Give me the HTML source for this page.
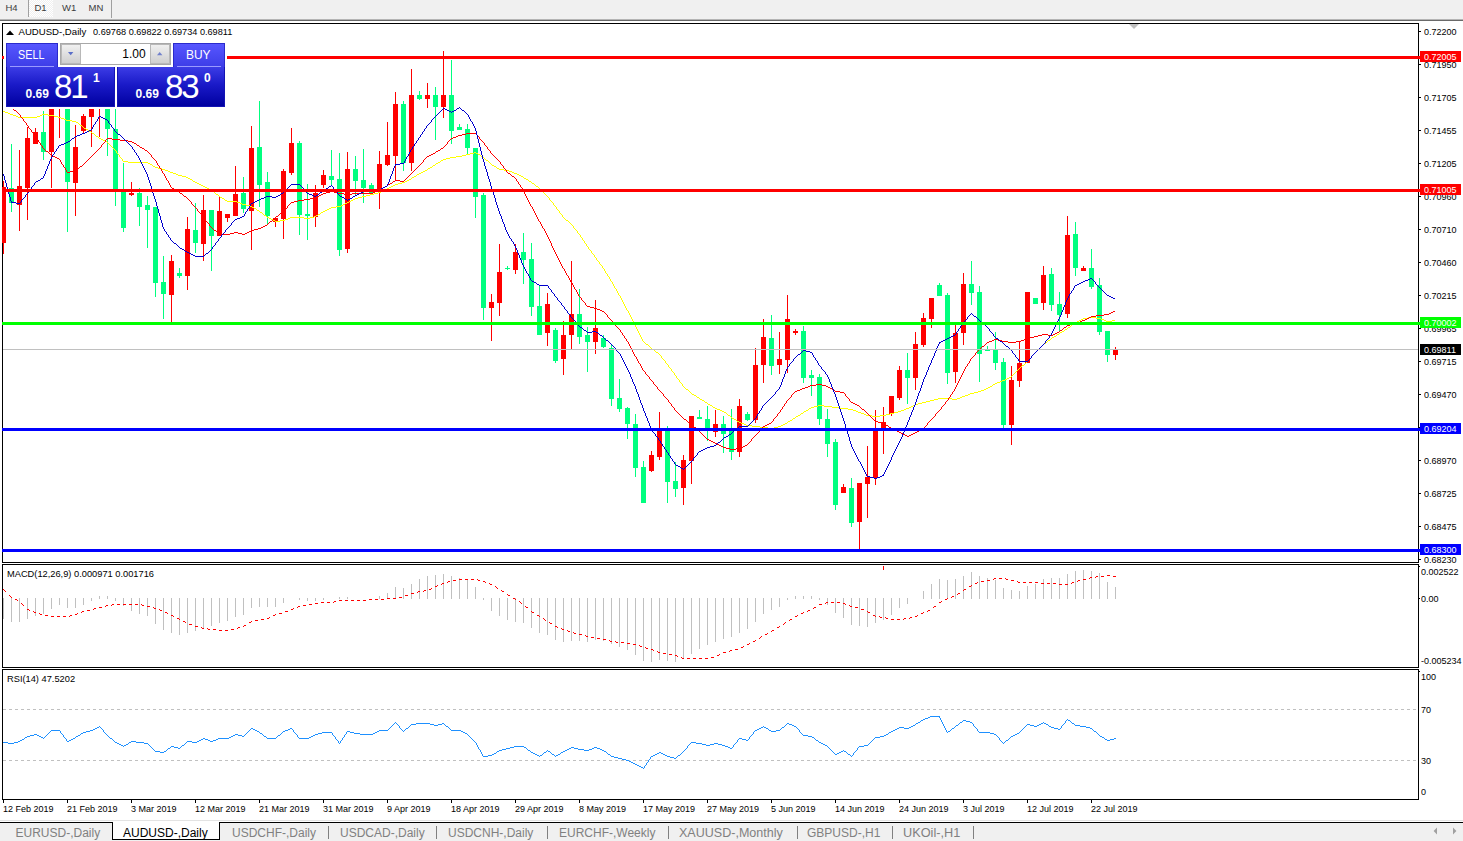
<!DOCTYPE html>
<html><head><meta charset="utf-8"><title>AUDUSD-,Daily</title>
<style>
html,body{margin:0;padding:0;}
body{width:1463px;height:841px;overflow:hidden;background:#fff;font-family:"Liberation Sans",sans-serif;position:relative;}
.t{position:absolute;white-space:nowrap;line-height:1;color:#000;}
.ax{font-size:9.7px;transform:scaleX(0.93);transform-origin:0 0;}
.tb{font-size:9.5px;color:#3c3c3c;}
.tab{font-size:12px;color:#808080;top:827px;}
.lbl{position:absolute;left:1420px;width:41px;height:11px;}
.lbl span{position:absolute;left:4px;top:1px;font-size:9.7px;line-height:1;color:#fff;transform:scaleX(0.93);transform-origin:0 0;}
svg{position:absolute;left:0;top:0;}
</style></head><body>

<div style="position:absolute;left:0;top:0;width:1463px;height:19px;background:#f0f0f0"></div>
<div style="position:absolute;left:0;top:19px;width:1463px;height:1px;background:#b4b4b4"></div>
<div style="position:absolute;left:0;top:20px;width:1463px;height:1px;background:#696969"></div>
<div style="position:absolute;left:29px;top:0;width:24px;height:17px;background-color:#f0f0f0;background-image:linear-gradient(45deg,#fff 25%,transparent 25%,transparent 75%,#fff 75%),linear-gradient(45deg,#fff 25%,transparent 25%,transparent 75%,#fff 75%);background-size:2px 2px;background-position:0 0,1px 1px"></div>
<div style="position:absolute;left:28px;top:0;width:1px;height:17px;background:#a0a0a0"></div>
<div style="position:absolute;left:111px;top:0;width:1px;height:18px;background:#a0a0a0"></div>
<div class="t tb" style="left:5.5px;top:3px">H4</div>
<div class="t tb" style="left:34.5px;top:3px">D1</div>
<div class="t tb" style="left:62px;top:3px">W1</div>
<div class="t tb" style="left:88.5px;top:3px">MN</div>
<svg width="1463" height="841" viewBox="0 0 1463 841" shape-rendering="crispEdges">
<defs><clipPath id="cm"><rect x="2" y="24" width="1416" height="538"/></clipPath></defs>
<rect x="2" y="23" width="1" height="777" fill="#000"/>
<rect x="1418" y="23" width="1" height="777" fill="#000"/>
<rect x="2" y="23" width="1417" height="1" fill="#000"/>
<rect x="2" y="562" width="1417" height="1" fill="#000"/>
<rect x="2" y="564" width="1417" height="1" fill="#000"/>
<rect x="2" y="667" width="1417" height="1" fill="#000"/>
<rect x="2" y="669" width="1417" height="1" fill="#000"/>
<rect x="2" y="799" width="1417" height="1" fill="#000"/>
<rect x="0" y="563" width="1463" height="1" fill="#fff"/>
<rect x="0" y="668" width="1463" height="1" fill="#fff"/>
<polygon points="1129,24 1139,24 1134,29" fill="#c0c0c0" shape-rendering="auto"/>
<g clip-path="url(#cm)">
<rect x="3" y="181" width="1" height="73" fill="#ff0000"/>
<rect x="1" y="187" width="5" height="56" fill="#ff0000"/>
<rect x="11" y="144" width="1" height="68" fill="#00ff7f"/>
<rect x="9" y="188" width="5" height="15" fill="#00ff7f"/>
<rect x="19" y="150" width="1" height="81" fill="#ff0000"/>
<rect x="17" y="186" width="5" height="19" fill="#ff0000"/>
<rect x="27" y="127" width="1" height="93" fill="#ff0000"/>
<rect x="25" y="138" width="5" height="50" fill="#ff0000"/>
<rect x="35" y="128" width="1" height="16" fill="#ff0000"/>
<rect x="33" y="132" width="5" height="12" fill="#ff0000"/>
<rect x="43" y="111" width="1" height="49" fill="#00ff7f"/>
<rect x="41" y="132" width="5" height="20" fill="#00ff7f"/>
<rect x="51" y="100" width="1" height="88" fill="#ff0000"/>
<rect x="49" y="100" width="5" height="52" fill="#ff0000"/>
<rect x="59" y="100" width="1" height="38" fill="#ff0000"/>
<rect x="57" y="100" width="5" height="7" fill="#ff0000"/>
<rect x="67" y="100" width="1" height="132" fill="#00ff7f"/>
<rect x="65" y="100" width="5" height="82" fill="#00ff7f"/>
<rect x="75" y="125" width="1" height="91" fill="#ff0000"/>
<rect x="73" y="147" width="5" height="36" fill="#ff0000"/>
<rect x="83" y="114" width="1" height="20" fill="#ff0000"/>
<rect x="81" y="116" width="5" height="15" fill="#ff0000"/>
<rect x="91" y="100" width="1" height="47" fill="#ff0000"/>
<rect x="89" y="100" width="5" height="17" fill="#ff0000"/>
<rect x="99" y="100" width="1" height="37" fill="#ff0000"/>
<rect x="97" y="100" width="5" height="7" fill="#ff0000"/>
<rect x="107" y="100" width="1" height="56" fill="#00ff7f"/>
<rect x="105" y="100" width="5" height="29" fill="#00ff7f"/>
<rect x="115" y="100" width="1" height="106" fill="#00ff7f"/>
<rect x="113" y="129" width="5" height="60" fill="#00ff7f"/>
<rect x="123" y="163" width="1" height="69" fill="#00ff7f"/>
<rect x="121" y="190" width="5" height="38" fill="#00ff7f"/>
<rect x="131" y="182" width="1" height="14" fill="#ff0000"/>
<rect x="129" y="193" width="5" height="2" fill="#ff0000"/>
<rect x="139" y="188" width="1" height="38" fill="#00ff7f"/>
<rect x="137" y="193" width="5" height="14" fill="#00ff7f"/>
<rect x="147" y="196" width="1" height="52" fill="#00ff7f"/>
<rect x="145" y="205" width="5" height="5" fill="#00ff7f"/>
<rect x="155" y="207" width="1" height="90" fill="#00ff7f"/>
<rect x="153" y="207" width="5" height="76" fill="#00ff7f"/>
<rect x="163" y="256" width="1" height="63" fill="#00ff7f"/>
<rect x="161" y="282" width="5" height="12" fill="#00ff7f"/>
<rect x="171" y="255" width="1" height="67" fill="#ff0000"/>
<rect x="169" y="261" width="5" height="34" fill="#ff0000"/>
<rect x="179" y="268" width="1" height="10" fill="#00ff7f"/>
<rect x="177" y="273" width="5" height="3" fill="#00ff7f"/>
<rect x="187" y="217" width="1" height="73" fill="#ff0000"/>
<rect x="185" y="229" width="5" height="47" fill="#ff0000"/>
<rect x="195" y="203" width="1" height="50" fill="#00ff7f"/>
<rect x="193" y="230" width="5" height="13" fill="#00ff7f"/>
<rect x="203" y="195" width="1" height="66" fill="#ff0000"/>
<rect x="201" y="210" width="5" height="34" fill="#ff0000"/>
<rect x="211" y="210" width="1" height="61" fill="#00ff7f"/>
<rect x="209" y="210" width="5" height="26" fill="#00ff7f"/>
<rect x="219" y="196" width="1" height="40" fill="#ff0000"/>
<rect x="217" y="211" width="5" height="25" fill="#ff0000"/>
<rect x="227" y="214" width="1" height="8" fill="#ff0000"/>
<rect x="225" y="214" width="5" height="4" fill="#ff0000"/>
<rect x="235" y="166" width="1" height="50" fill="#ff0000"/>
<rect x="233" y="194" width="5" height="22" fill="#ff0000"/>
<rect x="243" y="177" width="1" height="36" fill="#00ff7f"/>
<rect x="241" y="193" width="5" height="16" fill="#00ff7f"/>
<rect x="251" y="126" width="1" height="124" fill="#ff0000"/>
<rect x="249" y="148" width="5" height="63" fill="#ff0000"/>
<rect x="259" y="101" width="1" height="106" fill="#00ff7f"/>
<rect x="257" y="147" width="5" height="38" fill="#00ff7f"/>
<rect x="267" y="172" width="1" height="52" fill="#00ff7f"/>
<rect x="265" y="182" width="5" height="34" fill="#00ff7f"/>
<rect x="275" y="217" width="1" height="10" fill="#ff0000"/>
<rect x="273" y="218" width="5" height="4" fill="#ff0000"/>
<rect x="283" y="169" width="1" height="70" fill="#ff0000"/>
<rect x="281" y="171" width="5" height="48" fill="#ff0000"/>
<rect x="291" y="128" width="1" height="47" fill="#ff0000"/>
<rect x="289" y="143" width="5" height="30" fill="#ff0000"/>
<rect x="299" y="141" width="1" height="94" fill="#00ff7f"/>
<rect x="297" y="143" width="5" height="72" fill="#00ff7f"/>
<rect x="307" y="184" width="1" height="56" fill="#00ff7f"/>
<rect x="305" y="214" width="5" height="2" fill="#00ff7f"/>
<rect x="315" y="185" width="1" height="42" fill="#ff0000"/>
<rect x="313" y="193" width="5" height="24" fill="#ff0000"/>
<rect x="323" y="170" width="1" height="18" fill="#ff0000"/>
<rect x="321" y="175" width="5" height="10" fill="#ff0000"/>
<rect x="331" y="150" width="1" height="35" fill="#00ff7f"/>
<rect x="329" y="176" width="5" height="4" fill="#00ff7f"/>
<rect x="339" y="153" width="1" height="103" fill="#00ff7f"/>
<rect x="337" y="179" width="5" height="71" fill="#00ff7f"/>
<rect x="347" y="152" width="1" height="101" fill="#ff0000"/>
<rect x="345" y="169" width="5" height="80" fill="#ff0000"/>
<rect x="355" y="156" width="1" height="39" fill="#00ff7f"/>
<rect x="353" y="169" width="5" height="12" fill="#00ff7f"/>
<rect x="363" y="149" width="1" height="54" fill="#00ff7f"/>
<rect x="361" y="180" width="5" height="8" fill="#00ff7f"/>
<rect x="371" y="183" width="1" height="11" fill="#00ff7f"/>
<rect x="369" y="185" width="5" height="8" fill="#00ff7f"/>
<rect x="379" y="151" width="1" height="58" fill="#ff0000"/>
<rect x="377" y="164" width="5" height="25" fill="#ff0000"/>
<rect x="387" y="122" width="1" height="44" fill="#ff0000"/>
<rect x="385" y="155" width="5" height="10" fill="#ff0000"/>
<rect x="395" y="92" width="1" height="89" fill="#ff0000"/>
<rect x="393" y="104" width="5" height="52" fill="#ff0000"/>
<rect x="403" y="101" width="1" height="70" fill="#00ff7f"/>
<rect x="401" y="104" width="5" height="59" fill="#00ff7f"/>
<rect x="411" y="69" width="1" height="102" fill="#ff0000"/>
<rect x="409" y="95" width="5" height="68" fill="#ff0000"/>
<rect x="419" y="91" width="1" height="9" fill="#00ff7f"/>
<rect x="417" y="95" width="5" height="4" fill="#00ff7f"/>
<rect x="427" y="83" width="1" height="25" fill="#ff0000"/>
<rect x="425" y="95" width="5" height="4" fill="#ff0000"/>
<rect x="435" y="87" width="1" height="53" fill="#00ff7f"/>
<rect x="433" y="95" width="5" height="12" fill="#00ff7f"/>
<rect x="443" y="51" width="1" height="67" fill="#ff0000"/>
<rect x="441" y="95" width="5" height="12" fill="#ff0000"/>
<rect x="451" y="60" width="1" height="84" fill="#00ff7f"/>
<rect x="449" y="95" width="5" height="36" fill="#00ff7f"/>
<rect x="459" y="124" width="1" height="6" fill="#00ff7f"/>
<rect x="457" y="127" width="5" height="3" fill="#00ff7f"/>
<rect x="467" y="124" width="1" height="31" fill="#00ff7f"/>
<rect x="465" y="129" width="5" height="19" fill="#00ff7f"/>
<rect x="475" y="148" width="1" height="70" fill="#00ff7f"/>
<rect x="473" y="148" width="5" height="49" fill="#00ff7f"/>
<rect x="483" y="193" width="1" height="127" fill="#00ff7f"/>
<rect x="481" y="195" width="5" height="113" fill="#00ff7f"/>
<rect x="491" y="294" width="1" height="47" fill="#ff0000"/>
<rect x="489" y="302" width="5" height="6" fill="#ff0000"/>
<rect x="499" y="244" width="1" height="72" fill="#ff0000"/>
<rect x="497" y="272" width="5" height="31" fill="#ff0000"/>
<rect x="507" y="266" width="1" height="4" fill="#00ff7f"/>
<rect x="505" y="268" width="5" height="1" fill="#00ff7f"/>
<rect x="515" y="244" width="1" height="30" fill="#ff0000"/>
<rect x="513" y="252" width="5" height="18" fill="#ff0000"/>
<rect x="523" y="233" width="1" height="51" fill="#00ff7f"/>
<rect x="521" y="252" width="5" height="8" fill="#00ff7f"/>
<rect x="531" y="243" width="1" height="73" fill="#00ff7f"/>
<rect x="529" y="259" width="5" height="48" fill="#00ff7f"/>
<rect x="539" y="285" width="1" height="50" fill="#00ff7f"/>
<rect x="537" y="306" width="5" height="29" fill="#00ff7f"/>
<rect x="547" y="293" width="1" height="53" fill="#ff0000"/>
<rect x="545" y="304" width="5" height="29" fill="#ff0000"/>
<rect x="555" y="328" width="1" height="35" fill="#00ff7f"/>
<rect x="553" y="330" width="5" height="31" fill="#00ff7f"/>
<rect x="563" y="321" width="1" height="54" fill="#ff0000"/>
<rect x="561" y="335" width="5" height="24" fill="#ff0000"/>
<rect x="571" y="261" width="1" height="89" fill="#ff0000"/>
<rect x="569" y="314" width="5" height="21" fill="#ff0000"/>
<rect x="579" y="289" width="1" height="55" fill="#00ff7f"/>
<rect x="577" y="314" width="5" height="23" fill="#00ff7f"/>
<rect x="587" y="327" width="1" height="45" fill="#00ff7f"/>
<rect x="585" y="335" width="5" height="7" fill="#00ff7f"/>
<rect x="595" y="300" width="1" height="54" fill="#ff0000"/>
<rect x="593" y="328" width="5" height="14" fill="#ff0000"/>
<rect x="603" y="335" width="1" height="13" fill="#00ff7f"/>
<rect x="601" y="338" width="5" height="9" fill="#00ff7f"/>
<rect x="611" y="344" width="1" height="62" fill="#00ff7f"/>
<rect x="609" y="348" width="5" height="51" fill="#00ff7f"/>
<rect x="619" y="379" width="1" height="33" fill="#00ff7f"/>
<rect x="617" y="398" width="5" height="11" fill="#00ff7f"/>
<rect x="627" y="407" width="1" height="32" fill="#00ff7f"/>
<rect x="625" y="408" width="5" height="16" fill="#00ff7f"/>
<rect x="635" y="414" width="1" height="63" fill="#00ff7f"/>
<rect x="633" y="424" width="5" height="44" fill="#00ff7f"/>
<rect x="643" y="461" width="1" height="42" fill="#00ff7f"/>
<rect x="641" y="467" width="5" height="36" fill="#00ff7f"/>
<rect x="651" y="451" width="1" height="21" fill="#ff0000"/>
<rect x="649" y="455" width="5" height="16" fill="#ff0000"/>
<rect x="659" y="412" width="1" height="48" fill="#ff0000"/>
<rect x="657" y="429" width="5" height="28" fill="#ff0000"/>
<rect x="667" y="426" width="1" height="77" fill="#00ff7f"/>
<rect x="665" y="429" width="5" height="53" fill="#00ff7f"/>
<rect x="675" y="462" width="1" height="35" fill="#00ff7f"/>
<rect x="673" y="481" width="5" height="8" fill="#00ff7f"/>
<rect x="683" y="455" width="1" height="50" fill="#ff0000"/>
<rect x="681" y="460" width="5" height="28" fill="#ff0000"/>
<rect x="691" y="416" width="1" height="68" fill="#ff0000"/>
<rect x="689" y="416" width="5" height="45" fill="#ff0000"/>
<rect x="699" y="410" width="1" height="9" fill="#00ff7f"/>
<rect x="697" y="417" width="5" height="2" fill="#00ff7f"/>
<rect x="707" y="406" width="1" height="35" fill="#00ff7f"/>
<rect x="705" y="419" width="5" height="12" fill="#00ff7f"/>
<rect x="715" y="410" width="1" height="27" fill="#ff0000"/>
<rect x="713" y="424" width="5" height="8" fill="#ff0000"/>
<rect x="723" y="416" width="1" height="37" fill="#00ff7f"/>
<rect x="721" y="424" width="5" height="10" fill="#00ff7f"/>
<rect x="731" y="409" width="1" height="51" fill="#00ff7f"/>
<rect x="729" y="429" width="5" height="23" fill="#00ff7f"/>
<rect x="739" y="399" width="1" height="58" fill="#ff0000"/>
<rect x="737" y="406" width="5" height="46" fill="#ff0000"/>
<rect x="747" y="412" width="1" height="9" fill="#00ff7f"/>
<rect x="745" y="414" width="5" height="6" fill="#00ff7f"/>
<rect x="755" y="348" width="1" height="75" fill="#ff0000"/>
<rect x="753" y="365" width="5" height="55" fill="#ff0000"/>
<rect x="763" y="319" width="1" height="64" fill="#ff0000"/>
<rect x="761" y="337" width="5" height="28" fill="#ff0000"/>
<rect x="771" y="315" width="1" height="60" fill="#00ff7f"/>
<rect x="769" y="338" width="5" height="28" fill="#00ff7f"/>
<rect x="779" y="332" width="1" height="42" fill="#ff0000"/>
<rect x="777" y="359" width="5" height="6" fill="#ff0000"/>
<rect x="787" y="295" width="1" height="78" fill="#ff0000"/>
<rect x="785" y="319" width="5" height="41" fill="#ff0000"/>
<rect x="795" y="329" width="1" height="6" fill="#ff0000"/>
<rect x="793" y="331" width="5" height="2" fill="#ff0000"/>
<rect x="803" y="326" width="1" height="57" fill="#00ff7f"/>
<rect x="801" y="331" width="5" height="47" fill="#00ff7f"/>
<rect x="811" y="370" width="1" height="26" fill="#00ff7f"/>
<rect x="809" y="375" width="5" height="3" fill="#00ff7f"/>
<rect x="819" y="374" width="1" height="51" fill="#00ff7f"/>
<rect x="817" y="377" width="5" height="42" fill="#00ff7f"/>
<rect x="827" y="409" width="1" height="48" fill="#00ff7f"/>
<rect x="825" y="419" width="5" height="25" fill="#00ff7f"/>
<rect x="835" y="439" width="1" height="71" fill="#00ff7f"/>
<rect x="833" y="442" width="5" height="63" fill="#00ff7f"/>
<rect x="843" y="484" width="1" height="9" fill="#ff0000"/>
<rect x="841" y="487" width="5" height="6" fill="#ff0000"/>
<rect x="851" y="478" width="1" height="49" fill="#00ff7f"/>
<rect x="849" y="488" width="5" height="35" fill="#00ff7f"/>
<rect x="859" y="483" width="1" height="66" fill="#ff0000"/>
<rect x="857" y="483" width="5" height="39" fill="#ff0000"/>
<rect x="867" y="446" width="1" height="72" fill="#ff0000"/>
<rect x="865" y="477" width="5" height="7" fill="#ff0000"/>
<rect x="875" y="410" width="1" height="75" fill="#ff0000"/>
<rect x="873" y="429" width="5" height="49" fill="#ff0000"/>
<rect x="883" y="407" width="1" height="47" fill="#ff0000"/>
<rect x="881" y="422" width="5" height="7" fill="#ff0000"/>
<rect x="891" y="396" width="1" height="20" fill="#ff0000"/>
<rect x="889" y="396" width="5" height="18" fill="#ff0000"/>
<rect x="899" y="366" width="1" height="34" fill="#ff0000"/>
<rect x="897" y="370" width="5" height="28" fill="#ff0000"/>
<rect x="907" y="353" width="1" height="51" fill="#00ff7f"/>
<rect x="905" y="370" width="5" height="8" fill="#00ff7f"/>
<rect x="915" y="332" width="1" height="58" fill="#ff0000"/>
<rect x="913" y="344" width="5" height="34" fill="#ff0000"/>
<rect x="923" y="313" width="1" height="34" fill="#ff0000"/>
<rect x="921" y="318" width="5" height="27" fill="#ff0000"/>
<rect x="931" y="298" width="1" height="30" fill="#ff0000"/>
<rect x="929" y="298" width="5" height="21" fill="#ff0000"/>
<rect x="939" y="283" width="1" height="13" fill="#00ff7f"/>
<rect x="937" y="285" width="5" height="11" fill="#00ff7f"/>
<rect x="947" y="293" width="1" height="91" fill="#00ff7f"/>
<rect x="945" y="295" width="5" height="78" fill="#00ff7f"/>
<rect x="955" y="325" width="1" height="58" fill="#ff0000"/>
<rect x="953" y="333" width="5" height="39" fill="#ff0000"/>
<rect x="963" y="273" width="1" height="72" fill="#ff0000"/>
<rect x="961" y="284" width="5" height="49" fill="#ff0000"/>
<rect x="971" y="261" width="1" height="44" fill="#00ff7f"/>
<rect x="969" y="284" width="5" height="9" fill="#00ff7f"/>
<rect x="979" y="286" width="1" height="96" fill="#00ff7f"/>
<rect x="977" y="292" width="5" height="62" fill="#00ff7f"/>
<rect x="987" y="346" width="1" height="5" fill="#00ff7f"/>
<rect x="985" y="349" width="5" height="2" fill="#00ff7f"/>
<rect x="995" y="332" width="1" height="38" fill="#00ff7f"/>
<rect x="993" y="349" width="5" height="14" fill="#00ff7f"/>
<rect x="1003" y="358" width="1" height="70" fill="#00ff7f"/>
<rect x="1001" y="362" width="5" height="63" fill="#00ff7f"/>
<rect x="1011" y="366" width="1" height="79" fill="#ff0000"/>
<rect x="1009" y="380" width="5" height="45" fill="#ff0000"/>
<rect x="1019" y="341" width="1" height="46" fill="#ff0000"/>
<rect x="1017" y="363" width="5" height="18" fill="#ff0000"/>
<rect x="1027" y="292" width="1" height="71" fill="#ff0000"/>
<rect x="1025" y="292" width="5" height="71" fill="#ff0000"/>
<rect x="1035" y="298" width="1" height="6" fill="#00ff7f"/>
<rect x="1033" y="298" width="5" height="6" fill="#00ff7f"/>
<rect x="1043" y="266" width="1" height="44" fill="#ff0000"/>
<rect x="1041" y="275" width="5" height="28" fill="#ff0000"/>
<rect x="1051" y="268" width="1" height="43" fill="#00ff7f"/>
<rect x="1049" y="274" width="5" height="31" fill="#00ff7f"/>
<rect x="1059" y="292" width="1" height="40" fill="#00ff7f"/>
<rect x="1057" y="304" width="5" height="11" fill="#00ff7f"/>
<rect x="1067" y="216" width="1" height="102" fill="#ff0000"/>
<rect x="1065" y="235" width="5" height="79" fill="#ff0000"/>
<rect x="1075" y="222" width="1" height="54" fill="#00ff7f"/>
<rect x="1073" y="234" width="5" height="34" fill="#00ff7f"/>
<rect x="1083" y="266" width="1" height="5" fill="#ff0000"/>
<rect x="1081" y="268" width="5" height="3" fill="#ff0000"/>
<rect x="1091" y="249" width="1" height="40" fill="#00ff7f"/>
<rect x="1089" y="268" width="5" height="19" fill="#00ff7f"/>
<rect x="1099" y="278" width="1" height="57" fill="#00ff7f"/>
<rect x="1097" y="285" width="5" height="47" fill="#00ff7f"/>
<rect x="1107" y="331" width="1" height="31" fill="#00ff7f"/>
<rect x="1105" y="331" width="5" height="24" fill="#00ff7f"/>
<rect x="1115" y="347" width="1" height="13" fill="#ff0000"/>
<rect x="1113" y="349" width="5" height="6" fill="#ff0000"/>
<path d="M3 111h2v1h-2zM5 112h3v1h-3zM8 113h2v1h-2zM10 114h3v1h-3zM42 114h6v1h-6zM13 115h3v1h-3zM40 115h2v1h-2zM48 115h6v1h-6zM16 116h2v1h-2zM37 116h3v1h-3zM54 116h4v1h-4zM18 117h19v1h-19zM58 117h3v1h-3zM61 118h3v1h-3zM64 119h2v1h-2zM66 120h6v1h-6zM72 121h4v1h-4zM76 122h2v1h-2zM78 123h1v1h-1zM79 124h1v1h-1zM80 125h2v1h-2zM82 126h1v1h-1zM83 127h1v1h-1zM84 128h2v1h-2zM86 129h2v1h-2zM88 130h1v1h-1zM89 131h2v1h-2zM91 132h1v1h-1zM92 133h2v1h-2zM94 134h1v1h-1zM95 135h1v1h-1zM96 136h2v1h-2zM98 137h1v1h-1zM99 138h2v1h-2zM101 139h2v1h-2zM103 140h2v1h-2zM105 141h2v1h-2zM107 142h1v1h-1zM108 143h1v1h-1zM109 144h1v1h-1zM110 145h1v1h-1zM111 146h1v1h-1zM112 147h1v1h-1zM113 148h1v1h-1zM114 149h1v1h-1zM115 150h1v1h-1zM116 151h1v2h-1zM474 152h2v1h-2zM117 153h1v1h-1zM470 153h4v1h-4zM476 153h2v1h-2zM118 154h1v1h-1zM466 154h4v1h-4zM478 154h2v1h-2zM119 155h1v2h-1zM462 155h4v1h-4zM480 155h1v1h-1zM456 156h6v1h-6zM481 156h2v1h-2zM120 157h1v1h-1zM450 157h6v1h-6zM483 157h1v1h-1zM121 158h1v1h-1zM446 158h4v1h-4zM484 158h1v1h-1zM122 159h1v2h-1zM443 159h3v1h-3zM485 159h1v1h-1zM441 160h2v1h-2zM486 160h2v1h-2zM123 161h5v1h-5zM440 161h1v1h-1zM488 161h1v1h-1zM128 162h20v1h-20zM438 162h2v1h-2zM489 162h1v1h-1zM148 163h2v1h-2zM436 163h2v1h-2zM490 163h1v1h-1zM150 164h2v1h-2zM435 164h1v1h-1zM491 164h1v1h-1zM152 165h1v1h-1zM433 165h2v1h-2zM492 165h2v1h-2zM153 166h2v1h-2zM432 166h1v1h-1zM494 166h2v1h-2zM155 167h3v1h-3zM430 167h2v1h-2zM496 167h1v1h-1zM158 168h4v1h-4zM428 168h2v1h-2zM497 168h2v1h-2zM162 169h3v1h-3zM427 169h1v1h-1zM499 169h5v1h-5zM165 170h3v1h-3zM425 170h2v1h-2zM504 170h5v1h-5zM168 171h2v1h-2zM423 171h2v1h-2zM509 171h3v1h-3zM170 172h3v1h-3zM421 172h2v1h-2zM512 172h2v1h-2zM173 173h3v1h-3zM419 173h2v1h-2zM514 173h3v1h-3zM176 174h2v1h-2zM417 174h2v1h-2zM517 174h2v1h-2zM178 175h4v1h-4zM416 175h1v1h-1zM519 175h2v1h-2zM182 176h4v1h-4zM414 176h2v1h-2zM521 176h2v1h-2zM186 177h2v1h-2zM412 177h2v1h-2zM523 177h1v1h-1zM188 178h2v1h-2zM411 178h1v1h-1zM524 178h2v1h-2zM190 179h2v1h-2zM409 179h2v1h-2zM526 179h2v1h-2zM192 180h1v1h-1zM407 180h2v1h-2zM528 180h1v1h-1zM193 181h2v1h-2zM405 181h2v1h-2zM529 181h2v1h-2zM195 182h2v1h-2zM402 182h3v1h-3zM531 182h1v1h-1zM197 183h2v1h-2zM398 183h4v1h-4zM532 183h2v1h-2zM199 184h2v1h-2zM395 184h3v1h-3zM534 184h1v1h-1zM201 185h2v1h-2zM393 185h2v1h-2zM535 185h1v1h-1zM203 186h2v1h-2zM391 186h2v1h-2zM536 186h2v1h-2zM205 187h2v1h-2zM389 187h2v1h-2zM538 187h1v1h-1zM207 188h2v1h-2zM387 188h2v1h-2zM539 188h1v1h-1zM209 189h2v1h-2zM385 189h2v1h-2zM540 189h1v1h-1zM211 190h1v1h-1zM383 190h2v1h-2zM541 190h1v1h-1zM212 191h2v1h-2zM381 191h2v1h-2zM542 191h1v1h-1zM214 192h1v1h-1zM378 192h3v1h-3zM543 192h1v1h-1zM215 193h1v1h-1zM374 193h4v1h-4zM544 193h1v1h-1zM216 194h2v1h-2zM370 194h4v1h-4zM545 194h1v1h-1zM218 195h1v1h-1zM366 195h4v1h-4zM546 195h1v1h-1zM219 196h1v1h-1zM362 196h4v1h-4zM547 196h1v1h-1zM220 197h2v1h-2zM358 197h4v1h-4zM548 197h1v1h-1zM222 198h2v1h-2zM355 198h3v1h-3zM549 198h1v2h-1zM224 199h1v1h-1zM353 199h2v1h-2zM225 200h2v1h-2zM351 200h2v1h-2zM550 200h1v1h-1zM227 201h10v1h-10zM349 201h2v1h-2zM551 201h1v1h-1zM237 202h3v1h-3zM347 202h2v1h-2zM552 202h1v1h-1zM240 203h2v1h-2zM345 203h2v1h-2zM553 203h1v2h-1zM242 204h4v1h-4zM343 204h2v1h-2zM246 205h4v1h-4zM341 205h2v1h-2zM554 205h1v1h-1zM250 206h2v1h-2zM336 206h5v1h-5zM555 206h1v1h-1zM252 207h2v1h-2zM331 207h5v1h-5zM556 207h1v2h-1zM254 208h2v1h-2zM329 208h2v1h-2zM256 209h1v1h-1zM327 209h2v1h-2zM557 209h1v1h-1zM257 210h2v1h-2zM325 210h2v1h-2zM558 210h1v1h-1zM259 211h1v1h-1zM323 211h2v1h-2zM559 211h1v2h-1zM260 212h2v1h-2zM321 212h2v1h-2zM262 213h1v1h-1zM320 213h1v1h-1zM560 213h1v1h-1zM263 214h1v1h-1zM318 214h2v1h-2zM561 214h1v1h-1zM264 215h2v1h-2zM316 215h2v1h-2zM562 215h1v2h-1zM266 216h1v1h-1zM314 216h2v1h-2zM267 217h2v1h-2zM290 217h14v1h-14zM310 217h4v1h-4zM563 217h1v1h-1zM269 218h2v1h-2zM288 218h2v1h-2zM304 218h6v1h-6zM564 218h1v1h-1zM271 219h2v1h-2zM285 219h3v1h-3zM565 219h1v1h-1zM273 220h2v1h-2zM280 220h5v1h-5zM566 220h2v1h-2zM275 221h5v1h-5zM568 221h1v1h-1zM569 222h1v1h-1zM570 223h1v1h-1zM571 224h1v1h-1zM572 225h1v1h-1zM573 226h1v2h-1zM574 228h1v1h-1zM575 229h1v1h-1zM576 230h1v1h-1zM577 231h1v2h-1zM578 233h1v1h-1zM579 234h1v1h-1zM580 235h1v2h-1zM581 237h1v1h-1zM582 238h1v2h-1zM583 240h1v1h-1zM584 241h1v2h-1zM585 243h1v1h-1zM586 244h1v2h-1zM587 246h1v1h-1zM588 247h1v2h-1zM589 249h1v1h-1zM590 250h1v1h-1zM591 251h1v2h-1zM592 253h1v1h-1zM593 254h1v1h-1zM594 255h1v2h-1zM595 257h1v1h-1zM596 258h1v2h-1zM597 260h1v1h-1zM598 261h1v1h-1zM599 262h1v2h-1zM600 264h1v1h-1zM601 265h1v1h-1zM602 266h1v2h-1zM603 268h1v1h-1zM604 269h1v2h-1zM605 271h1v2h-1zM606 273h1v1h-1zM607 274h1v2h-1zM608 276h1v1h-1zM609 277h1v2h-1zM610 279h1v2h-1zM611 281h1v1h-1zM612 282h1v2h-1zM613 284h1v2h-1zM614 286h1v2h-1zM615 288h1v1h-1zM616 289h1v2h-1zM617 291h1v2h-1zM618 293h1v2h-1zM619 295h1v1h-1zM620 296h1v2h-1zM621 298h1v2h-1zM622 300h1v2h-1zM623 302h1v2h-1zM624 304h1v2h-1zM625 306h1v2h-1zM626 308h1v2h-1zM627 310h1v1h-1zM628 311h1v2h-1zM629 313h1v2h-1zM630 315h1v2h-1zM631 317h1v2h-1zM1088 317h8v1h-8zM1083 318h5v1h-5zM1096 318h5v1h-5zM632 319h1v2h-1zM1081 319h2v1h-2zM1101 319h3v1h-3zM1079 320h2v1h-2zM1104 320h2v1h-2zM1112 320h3v1h-3zM633 321h1v2h-1zM1077 321h2v1h-2zM1106 321h6v1h-6zM1075 322h2v1h-2zM634 323h1v2h-1zM1074 323h1v1h-1zM1072 324h2v1h-2zM635 325h1v2h-1zM1071 325h1v1h-1zM1070 326h1v1h-1zM636 327h1v2h-1zM1068 327h2v1h-2zM1067 328h1v1h-1zM637 329h1v2h-1zM1065 329h2v1h-2zM1064 330h1v1h-1zM638 331h1v2h-1zM1062 331h2v1h-2zM1060 332h2v1h-2zM639 333h1v2h-1zM1059 333h1v1h-1zM1057 334h2v1h-2zM640 335h1v2h-1zM1056 335h1v1h-1zM1054 336h2v1h-2zM641 337h1v2h-1zM1052 337h2v1h-2zM1051 338h1v1h-1zM642 339h1v2h-1zM1050 339h1v1h-1zM1048 340h2v1h-2zM643 341h1v1h-1zM1047 341h1v1h-1zM644 342h1v1h-1zM1046 342h1v1h-1zM645 343h1v1h-1zM1044 343h2v1h-2zM646 344h2v1h-2zM1043 344h1v1h-1zM648 345h1v1h-1zM1042 345h1v1h-1zM649 346h1v1h-1zM1041 346h1v1h-1zM650 347h1v1h-1zM1040 347h1v1h-1zM651 348h1v1h-1zM1039 348h1v1h-1zM652 349h2v1h-2zM1038 349h1v1h-1zM654 350h1v1h-1zM1037 350h1v1h-1zM655 351h1v1h-1zM1036 351h1v1h-1zM656 352h2v1h-2zM1035 352h1v1h-1zM658 353h1v1h-1zM1034 353h1v1h-1zM659 354h1v1h-1zM1033 354h1v1h-1zM660 355h1v1h-1zM1032 355h1v1h-1zM661 356h1v2h-1zM1031 356h1v2h-1zM662 358h1v1h-1zM1030 358h1v1h-1zM663 359h1v1h-1zM1029 359h1v1h-1zM664 360h1v1h-1zM1028 360h1v1h-1zM665 361h1v2h-1zM1027 361h1v1h-1zM1026 362h1v1h-1zM666 363h1v1h-1zM1025 363h1v1h-1zM667 364h1v1h-1zM1024 364h1v1h-1zM668 365h1v2h-1zM1022 365h2v1h-2zM1021 366h1v1h-1zM669 367h1v1h-1zM1020 367h1v1h-1zM670 368h1v1h-1zM1019 368h1v1h-1zM671 369h1v2h-1zM1018 369h1v1h-1zM1017 370h1v1h-1zM672 371h1v1h-1zM1016 371h1v1h-1zM673 372h1v1h-1zM1015 372h1v1h-1zM674 373h1v2h-1zM1014 373h1v1h-1zM1013 374h1v1h-1zM675 375h1v1h-1zM1012 375h1v1h-1zM676 376h1v2h-1zM1011 376h1v1h-1zM1009 377h2v1h-2zM677 378h1v1h-1zM1007 378h2v1h-2zM678 379h1v1h-1zM1005 379h2v1h-2zM679 380h1v2h-1zM1002 380h3v1h-3zM1000 381h2v1h-2zM680 382h1v1h-1zM997 382h3v1h-3zM681 383h1v1h-1zM995 383h2v1h-2zM682 384h1v2h-1zM993 384h2v1h-2zM992 385h1v1h-1zM683 386h1v1h-1zM990 386h2v1h-2zM684 387h1v1h-1zM988 387h2v1h-2zM685 388h1v1h-1zM986 388h2v1h-2zM686 389h2v1h-2zM984 389h2v1h-2zM688 390h1v1h-1zM981 390h3v1h-3zM689 391h1v1h-1zM978 391h3v1h-3zM690 392h1v1h-1zM974 392h4v1h-4zM691 393h1v1h-1zM970 393h4v1h-4zM692 394h2v1h-2zM968 394h2v1h-2zM694 395h2v1h-2zM965 395h3v1h-3zM696 396h1v1h-1zM962 396h3v1h-3zM697 397h2v1h-2zM960 397h2v1h-2zM699 398h1v1h-1zM938 398h14v1h-14zM957 398h3v1h-3zM700 399h2v1h-2zM934 399h4v1h-4zM952 399h5v1h-5zM702 400h2v1h-2zM930 400h4v1h-4zM704 401h1v1h-1zM926 401h4v1h-4zM705 402h2v1h-2zM922 402h4v1h-4zM707 403h1v1h-1zM918 403h4v1h-4zM708 404h2v1h-2zM915 404h3v1h-3zM710 405h2v1h-2zM818 405h6v1h-6zM913 405h2v1h-2zM712 406h1v1h-1zM814 406h4v1h-4zM824 406h8v1h-8zM911 406h2v1h-2zM713 407h2v1h-2zM811 407h3v1h-3zM832 407h8v1h-8zM909 407h2v1h-2zM715 408h2v1h-2zM809 408h2v1h-2zM840 408h8v1h-8zM906 408h3v1h-3zM717 409h3v1h-3zM808 409h1v1h-1zM848 409h5v1h-5zM904 409h2v1h-2zM720 410h2v1h-2zM806 410h2v1h-2zM853 410h3v1h-3zM901 410h3v1h-3zM722 411h2v1h-2zM804 411h2v1h-2zM856 411h2v1h-2zM898 411h3v1h-3zM724 412h2v1h-2zM803 412h1v1h-1zM858 412h3v1h-3zM894 412h4v1h-4zM726 413h1v1h-1zM801 413h2v1h-2zM861 413h3v1h-3zM890 413h4v1h-4zM727 414h1v1h-1zM800 414h1v1h-1zM864 414h2v1h-2zM886 414h4v1h-4zM728 415h2v1h-2zM798 415h2v1h-2zM866 415h6v1h-6zM880 415h6v1h-6zM730 416h1v1h-1zM796 416h2v1h-2zM872 416h8v1h-8zM731 417h1v1h-1zM795 417h1v1h-1zM732 418h2v1h-2zM793 418h2v1h-2zM734 419h2v1h-2zM792 419h1v1h-1zM736 420h1v1h-1zM790 420h2v1h-2zM737 421h2v1h-2zM788 421h2v1h-2zM739 422h2v1h-2zM787 422h1v1h-1zM741 423h3v1h-3zM785 423h2v1h-2zM744 424h2v1h-2zM783 424h2v1h-2zM746 425h6v1h-6zM781 425h2v1h-2zM752 426h8v1h-8zM778 426h3v1h-3zM760 427h8v1h-8zM774 427h4v1h-4zM768 428h6v1h-6z" fill="#ffff00"/>
<path d="M11 107h1v1h-1zM12 108h1v1h-1zM13 109h1v1h-1zM14 110h2v1h-2zM16 111h1v1h-1zM17 112h1v1h-1zM18 113h1v1h-1zM19 114h1v1h-1zM20 115h1v2h-1zM21 117h1v1h-1zM22 118h1v1h-1zM23 119h1v2h-1zM24 121h1v1h-1zM25 122h1v1h-1zM26 123h1v2h-1zM27 125h1v1h-1zM28 126h1v2h-1zM29 128h1v1h-1zM30 129h1v1h-1zM31 130h1v2h-1zM32 132h1v1h-1zM33 133h1v1h-1zM466 133h10v1h-10zM34 134h1v2h-1zM462 134h4v1h-4zM476 134h1v1h-1zM458 135h4v1h-4zM477 135h1v1h-1zM35 136h1v1h-1zM456 136h2v1h-2zM478 136h1v1h-1zM36 137h1v2h-1zM453 137h3v1h-3zM479 137h1v2h-1zM107 138h5v1h-5zM451 138h2v1h-2zM37 139h1v1h-1zM106 139h1v1h-1zM112 139h8v1h-8zM450 139h1v1h-1zM480 139h1v1h-1zM38 140h1v2h-1zM105 140h1v2h-1zM120 140h8v1h-8zM449 140h1v1h-1zM481 140h1v1h-1zM128 141h4v1h-4zM448 141h1v1h-1zM482 141h1v1h-1zM39 142h1v1h-1zM104 142h1v1h-1zM132 142h2v1h-2zM447 142h1v2h-1zM483 142h1v1h-1zM40 143h1v2h-1zM103 143h1v1h-1zM134 143h2v1h-2zM484 143h1v2h-1zM102 144h1v1h-1zM136 144h1v1h-1zM446 144h1v1h-1zM41 145h1v1h-1zM101 145h1v2h-1zM137 145h2v1h-2zM445 145h1v1h-1zM485 145h1v1h-1zM42 146h1v2h-1zM139 146h1v1h-1zM444 146h1v1h-1zM486 146h1v1h-1zM100 147h1v1h-1zM140 147h2v1h-2zM443 147h1v1h-1zM487 147h1v2h-1zM43 148h1v1h-1zM99 148h1v1h-1zM142 148h2v1h-2zM441 148h2v1h-2zM44 149h1v1h-1zM98 149h1v1h-1zM144 149h1v1h-1zM440 149h1v1h-1zM488 149h1v1h-1zM45 150h1v1h-1zM97 150h1v1h-1zM145 150h2v1h-2zM438 150h2v1h-2zM489 150h1v1h-1zM46 151h2v1h-2zM96 151h1v1h-1zM147 151h1v1h-1zM436 151h2v1h-2zM490 151h1v2h-1zM48 152h1v1h-1zM95 152h1v1h-1zM148 152h1v1h-1zM435 152h1v1h-1zM49 153h1v1h-1zM94 153h1v1h-1zM149 153h1v1h-1zM433 153h2v1h-2zM491 153h1v1h-1zM50 154h1v1h-1zM93 154h1v1h-1zM150 154h1v1h-1zM431 154h2v1h-2zM492 154h1v1h-1zM51 155h2v1h-2zM92 155h1v1h-1zM151 155h1v2h-1zM429 155h2v1h-2zM493 155h1v1h-1zM53 156h2v1h-2zM91 156h1v1h-1zM427 156h2v1h-2zM494 156h1v1h-1zM55 157h2v1h-2zM90 157h1v1h-1zM152 157h1v1h-1zM426 157h1v1h-1zM495 157h1v1h-1zM57 158h2v1h-2zM89 158h1v1h-1zM153 158h1v1h-1zM425 158h1v1h-1zM496 158h1v1h-1zM59 159h1v1h-1zM88 159h1v1h-1zM154 159h1v1h-1zM424 159h1v1h-1zM497 159h1v1h-1zM60 160h1v2h-1zM87 160h1v1h-1zM155 160h1v1h-1zM423 160h1v2h-1zM498 160h1v1h-1zM86 161h1v1h-1zM156 161h1v2h-1zM499 161h1v1h-1zM61 162h1v2h-1zM85 162h1v1h-1zM422 162h1v1h-1zM500 162h1v2h-1zM84 163h1v1h-1zM157 163h1v2h-1zM421 163h1v1h-1zM62 164h1v1h-1zM83 164h1v1h-1zM420 164h1v1h-1zM501 164h1v1h-1zM63 165h1v2h-1zM82 165h1v1h-1zM158 165h1v1h-1zM419 165h1v1h-1zM502 165h1v1h-1zM80 166h2v1h-2zM159 166h1v2h-1zM418 166h1v1h-1zM503 166h1v2h-1zM64 167h1v1h-1zM79 167h1v1h-1zM417 167h1v1h-1zM65 168h1v2h-1zM78 168h1v1h-1zM160 168h1v1h-1zM416 168h1v1h-1zM504 168h1v1h-1zM76 169h2v1h-2zM161 169h1v2h-1zM415 169h1v1h-1zM505 169h1v1h-1zM66 170h1v2h-1zM74 170h2v1h-2zM414 170h1v1h-1zM506 170h1v2h-1zM70 171h4v1h-4zM162 171h1v2h-1zM413 171h1v1h-1zM67 172h3v1h-3zM412 172h1v1h-1zM507 172h1v1h-1zM163 173h1v1h-1zM411 173h1v1h-1zM508 173h2v1h-2zM164 174h1v2h-1zM410 174h1v1h-1zM510 174h1v1h-1zM409 175h1v1h-1zM511 175h1v1h-1zM165 176h1v2h-1zM408 176h1v1h-1zM512 176h2v1h-2zM407 177h1v1h-1zM514 177h1v1h-1zM166 178h1v2h-1zM406 178h1v1h-1zM515 178h1v1h-1zM405 179h1v1h-1zM516 179h1v2h-1zM167 180h1v1h-1zM395 180h5v1h-5zM404 180h1v1h-1zM168 181h1v2h-1zM393 181h2v1h-2zM400 181h4v1h-4zM517 181h1v1h-1zM392 182h1v1h-1zM518 182h1v2h-1zM169 183h1v2h-1zM390 183h2v1h-2zM388 184h2v1h-2zM519 184h1v1h-1zM170 185h1v2h-1zM387 185h1v1h-1zM520 185h1v2h-1zM385 186h2v1h-2zM171 187h1v1h-1zM383 187h2v1h-2zM521 187h1v1h-1zM172 188h2v1h-2zM381 188h2v1h-2zM522 188h1v2h-1zM174 189h2v1h-2zM379 189h2v1h-2zM176 190h1v1h-1zM377 190h2v1h-2zM523 190h1v2h-1zM177 191h2v1h-2zM330 191h4v1h-4zM375 191h2v1h-2zM179 192h1v1h-1zM326 192h4v1h-4zM334 192h4v1h-4zM373 192h2v1h-2zM524 192h1v2h-1zM180 193h2v1h-2zM323 193h3v1h-3zM338 193h6v1h-6zM352 193h21v1h-21zM182 194h1v1h-1zM321 194h2v1h-2zM344 194h8v1h-8zM525 194h1v2h-1zM183 195h1v1h-1zM319 195h2v1h-2zM184 196h2v1h-2zM317 196h2v1h-2zM526 196h1v2h-1zM186 197h1v1h-1zM314 197h3v1h-3zM187 198h1v1h-1zM310 198h4v1h-4zM527 198h1v2h-1zM188 199h1v1h-1zM304 199h6v1h-6zM189 200h1v1h-1zM298 200h6v1h-6zM528 200h1v2h-1zM190 201h1v1h-1zM294 201h4v1h-4zM191 202h1v2h-1zM291 202h3v1h-3zM529 202h1v2h-1zM290 203h1v1h-1zM192 204h1v1h-1zM289 204h1v1h-1zM530 204h1v2h-1zM193 205h1v1h-1zM288 205h1v1h-1zM194 206h1v1h-1zM287 206h1v2h-1zM531 206h1v1h-1zM195 207h1v1h-1zM532 207h1v2h-1zM196 208h1v1h-1zM286 208h1v1h-1zM197 209h1v2h-1zM285 209h1v1h-1zM533 209h1v2h-1zM284 210h1v1h-1zM198 211h1v1h-1zM283 211h1v1h-1zM534 211h1v2h-1zM199 212h1v1h-1zM282 212h1v1h-1zM200 213h1v1h-1zM280 213h2v1h-2zM535 213h1v2h-1zM201 214h1v2h-1zM279 214h1v1h-1zM278 215h1v1h-1zM536 215h1v2h-1zM202 216h1v1h-1zM276 216h2v1h-2zM203 217h1v1h-1zM275 217h1v1h-1zM537 217h1v2h-1zM204 218h1v1h-1zM274 218h1v1h-1zM205 219h1v2h-1zM273 219h1v1h-1zM538 219h1v2h-1zM272 220h1v1h-1zM206 221h1v1h-1zM270 221h2v1h-2zM539 221h1v1h-1zM207 222h1v1h-1zM269 222h1v1h-1zM540 222h1v2h-1zM208 223h1v1h-1zM268 223h1v1h-1zM209 224h1v2h-1zM267 224h1v1h-1zM541 224h1v2h-1zM265 225h2v1h-2zM210 226h1v1h-1zM263 226h2v1h-2zM542 226h1v2h-1zM211 227h1v1h-1zM261 227h2v1h-2zM212 228h1v1h-1zM258 228h3v1h-3zM543 228h1v1h-1zM213 229h1v1h-1zM254 229h4v1h-4zM544 229h1v2h-1zM214 230h2v1h-2zM251 230h3v1h-3zM216 231h1v1h-1zM249 231h2v1h-2zM545 231h1v2h-1zM217 232h1v1h-1zM234 232h4v1h-4zM247 232h2v1h-2zM218 233h1v1h-1zM230 233h4v1h-4zM238 233h4v1h-4zM245 233h2v1h-2zM546 233h1v2h-1zM219 234h11v1h-11zM242 234h3v1h-3zM547 235h1v2h-1zM548 237h1v2h-1zM549 239h1v2h-1zM550 241h1v2h-1zM551 243h1v3h-1zM552 246h1v2h-1zM553 248h1v2h-1zM554 250h1v2h-1zM555 252h1v2h-1zM556 254h1v2h-1zM557 256h1v2h-1zM558 258h1v2h-1zM559 260h1v2h-1zM560 262h1v2h-1zM561 264h1v2h-1zM562 266h1v2h-1zM563 268h1v1h-1zM564 269h1v2h-1zM565 271h1v2h-1zM566 273h1v2h-1zM567 275h1v1h-1zM568 276h1v2h-1zM569 278h1v2h-1zM570 280h1v2h-1zM571 282h1v1h-1zM572 283h1v2h-1zM573 285h1v2h-1zM574 287h1v2h-1zM575 289h1v1h-1zM576 290h1v2h-1zM577 292h1v2h-1zM578 294h1v2h-1zM579 296h1v1h-1zM580 297h1v1h-1zM581 298h1v2h-1zM582 300h1v1h-1zM583 301h1v1h-1zM584 302h1v1h-1zM585 303h1v2h-1zM586 305h1v1h-1zM587 306h3v1h-3zM590 307h4v1h-4zM594 308h3v1h-3zM597 309h3v1h-3zM600 310h2v1h-2zM602 311h2v1h-2zM1113 311h2v1h-2zM604 312h1v1h-1zM1111 312h2v1h-2zM605 313h1v1h-1zM1109 313h2v1h-2zM606 314h1v1h-1zM1104 314h5v1h-5zM607 315h1v2h-1zM1096 315h8v1h-8zM1091 316h5v1h-5zM608 317h1v1h-1zM1089 317h2v1h-2zM609 318h1v1h-1zM1087 318h2v1h-2zM610 319h1v1h-1zM1085 319h2v1h-2zM611 320h1v1h-1zM1082 320h3v1h-3zM612 321h1v1h-1zM1080 321h2v1h-2zM613 322h1v1h-1zM1077 322h3v1h-3zM614 323h1v1h-1zM1074 323h3v1h-3zM615 324h1v2h-1zM1070 324h4v1h-4zM1067 325h3v1h-3zM616 326h1v1h-1zM1066 326h1v1h-1zM617 327h1v1h-1zM1064 327h2v1h-2zM618 328h1v1h-1zM1063 328h1v1h-1zM619 329h1v1h-1zM1062 329h1v1h-1zM620 330h1v2h-1zM1060 330h2v1h-2zM1059 331h1v1h-1zM621 332h1v1h-1zM1057 332h2v1h-2zM622 333h1v2h-1zM1055 333h2v1h-2zM1042 334h6v1h-6zM1053 334h2v1h-2zM623 335h1v1h-1zM1038 335h4v1h-4zM1048 335h5v1h-5zM624 336h1v2h-1zM1034 336h4v1h-4zM1030 337h4v1h-4zM625 338h1v1h-1zM1026 338h4v1h-4zM626 339h1v2h-1zM994 339h4v1h-4zM1024 339h2v1h-2zM992 340h2v1h-2zM998 340h4v1h-4zM1021 340h3v1h-3zM627 341h1v1h-1zM989 341h3v1h-3zM1002 341h6v1h-6zM1016 341h5v1h-5zM628 342h1v2h-1zM987 342h2v1h-2zM1008 342h8v1h-8zM986 343h1v1h-1zM629 344h1v2h-1zM985 344h1v1h-1zM984 345h1v1h-1zM630 346h1v2h-1zM982 346h2v1h-2zM981 347h1v1h-1zM631 348h1v2h-1zM980 348h1v1h-1zM979 349h1v1h-1zM632 350h1v2h-1zM978 350h1v1h-1zM977 351h1v1h-1zM633 352h1v2h-1zM976 352h1v1h-1zM975 353h1v2h-1zM634 354h1v2h-1zM974 355h1v1h-1zM635 356h1v1h-1zM973 356h1v1h-1zM636 357h1v2h-1zM972 357h1v1h-1zM971 358h1v1h-1zM637 359h1v2h-1zM970 359h1v2h-1zM638 361h1v2h-1zM969 361h1v2h-1zM639 363h1v1h-1zM968 363h1v1h-1zM640 364h1v2h-1zM967 364h1v2h-1zM641 366h1v2h-1zM966 366h1v1h-1zM965 367h1v2h-1zM642 368h1v2h-1zM964 369h1v2h-1zM643 370h1v1h-1zM644 371h1v1h-1zM963 371h1v2h-1zM645 372h1v2h-1zM962 373h1v2h-1zM646 374h1v1h-1zM647 375h1v1h-1zM961 375h1v2h-1zM648 376h1v1h-1zM649 377h1v2h-1zM960 377h1v2h-1zM650 379h1v1h-1zM959 379h1v2h-1zM651 380h1v1h-1zM652 381h1v1h-1zM958 381h1v2h-1zM653 382h1v2h-1zM957 383h1v2h-1zM654 384h1v1h-1zM816 384h6v1h-6zM655 385h1v1h-1zM810 385h6v1h-6zM822 385h4v1h-4zM956 385h1v2h-1zM656 386h1v1h-1zM808 386h2v1h-2zM826 386h2v1h-2zM657 387h1v2h-1zM805 387h3v1h-3zM828 387h2v1h-2zM955 387h1v2h-1zM802 388h3v1h-3zM830 388h2v1h-2zM658 389h1v1h-1zM800 389h2v1h-2zM832 389h1v1h-1zM954 389h1v2h-1zM659 390h1v1h-1zM797 390h3v1h-3zM833 390h2v1h-2zM660 391h1v1h-1zM795 391h2v1h-2zM835 391h5v1h-5zM953 391h1v1h-1zM661 392h1v1h-1zM794 392h1v1h-1zM840 392h4v1h-4zM952 392h1v2h-1zM662 393h1v1h-1zM793 393h1v1h-1zM844 393h1v1h-1zM663 394h1v2h-1zM792 394h1v1h-1zM845 394h1v2h-1zM951 394h1v1h-1zM791 395h1v2h-1zM950 395h1v2h-1zM664 396h1v1h-1zM846 396h1v1h-1zM665 397h1v1h-1zM790 397h1v1h-1zM847 397h1v1h-1zM949 397h1v1h-1zM666 398h1v1h-1zM789 398h1v1h-1zM848 398h1v1h-1zM948 398h1v2h-1zM667 399h1v1h-1zM788 399h1v1h-1zM849 399h1v2h-1zM668 400h1v2h-1zM787 400h1v1h-1zM947 400h1v1h-1zM786 401h1v2h-1zM850 401h1v1h-1zM946 401h1v1h-1zM669 402h1v1h-1zM851 402h2v1h-2zM945 402h1v2h-1zM670 403h1v1h-1zM785 403h1v1h-1zM853 403h2v1h-2zM671 404h1v2h-1zM784 404h1v2h-1zM855 404h2v1h-2zM944 404h1v1h-1zM857 405h2v1h-2zM943 405h1v1h-1zM672 406h1v1h-1zM783 406h1v1h-1zM859 406h1v1h-1zM942 406h1v1h-1zM673 407h1v1h-1zM782 407h1v2h-1zM860 407h1v1h-1zM941 407h1v2h-1zM674 408h1v2h-1zM861 408h1v1h-1zM781 409h1v1h-1zM862 409h2v1h-2zM940 409h1v1h-1zM675 410h1v1h-1zM780 410h1v2h-1zM864 410h1v1h-1zM939 410h1v1h-1zM676 411h1v1h-1zM865 411h1v1h-1zM938 411h1v1h-1zM677 412h1v1h-1zM779 412h1v1h-1zM866 412h1v1h-1zM937 412h1v1h-1zM678 413h1v1h-1zM778 413h1v1h-1zM867 413h1v1h-1zM936 413h1v1h-1zM679 414h1v1h-1zM777 414h1v2h-1zM868 414h1v1h-1zM935 414h1v2h-1zM680 415h1v1h-1zM869 415h1v1h-1zM681 416h1v1h-1zM776 416h1v1h-1zM870 416h1v1h-1zM934 416h1v1h-1zM682 417h1v1h-1zM775 417h1v1h-1zM871 417h1v1h-1zM933 417h1v1h-1zM683 418h1v1h-1zM774 418h1v1h-1zM872 418h1v1h-1zM932 418h1v1h-1zM684 419h2v1h-2zM773 419h1v2h-1zM873 419h1v1h-1zM931 419h1v1h-1zM686 420h1v1h-1zM874 420h1v1h-1zM930 420h1v1h-1zM687 421h1v1h-1zM772 421h1v1h-1zM875 421h3v1h-3zM929 421h1v1h-1zM688 422h2v1h-2zM771 422h1v1h-1zM878 422h4v1h-4zM928 422h1v1h-1zM690 423h1v1h-1zM769 423h2v1h-2zM882 423h2v1h-2zM927 423h1v2h-1zM691 424h1v1h-1zM767 424h2v1h-2zM884 424h2v1h-2zM692 425h1v1h-1zM765 425h2v1h-2zM886 425h2v1h-2zM926 425h1v1h-1zM693 426h1v1h-1zM763 426h2v1h-2zM888 426h1v1h-1zM925 426h1v1h-1zM694 427h2v1h-2zM762 427h1v1h-1zM889 427h2v1h-2zM924 427h1v1h-1zM696 428h1v1h-1zM761 428h1v1h-1zM891 428h2v1h-2zM923 428h1v1h-1zM697 429h1v1h-1zM760 429h1v1h-1zM893 429h2v1h-2zM921 429h2v1h-2zM698 430h1v1h-1zM759 430h1v2h-1zM895 430h2v1h-2zM919 430h2v1h-2zM699 431h1v1h-1zM897 431h2v1h-2zM917 431h2v1h-2zM700 432h1v1h-1zM758 432h1v1h-1zM899 432h2v1h-2zM915 432h2v1h-2zM701 433h1v1h-1zM757 433h1v1h-1zM901 433h2v1h-2zM913 433h2v1h-2zM702 434h1v1h-1zM756 434h1v1h-1zM903 434h2v1h-2zM911 434h2v1h-2zM703 435h1v1h-1zM755 435h1v1h-1zM905 435h2v1h-2zM909 435h2v1h-2zM704 436h1v1h-1zM754 436h1v1h-1zM907 436h2v1h-2zM705 437h1v1h-1zM753 437h1v1h-1zM706 438h1v1h-1zM752 438h1v1h-1zM707 439h2v1h-2zM751 439h1v2h-1zM709 440h2v1h-2zM711 441h2v1h-2zM750 441h1v1h-1zM713 442h2v1h-2zM749 442h1v1h-1zM715 443h2v1h-2zM748 443h1v1h-1zM717 444h2v1h-2zM747 444h1v1h-1zM719 445h2v1h-2zM745 445h2v1h-2zM721 446h2v1h-2zM743 446h2v1h-2zM723 447h3v1h-3zM741 447h2v1h-2zM726 448h4v1h-4zM736 448h5v1h-5zM730 449h6v1h-6z" fill="#ff0000"/>
<path d="M459 107h1v1h-1zM443 108h2v1h-2zM457 108h2v1h-2zM460 108h1v1h-1zM442 109h1v1h-1zM445 109h2v1h-2zM456 109h1v1h-1zM461 109h1v1h-1zM441 110h1v1h-1zM447 110h2v1h-2zM454 110h2v1h-2zM462 110h2v1h-2zM440 111h1v1h-1zM449 111h2v1h-2zM452 111h2v1h-2zM464 111h1v1h-1zM439 112h1v1h-1zM451 112h1v1h-1zM465 112h1v1h-1zM438 113h1v1h-1zM466 113h1v1h-1zM437 114h1v1h-1zM467 114h1v1h-1zM436 115h1v1h-1zM468 115h1v2h-1zM99 116h2v1h-2zM435 116h1v1h-1zM98 117h1v2h-1zM101 117h2v1h-2zM434 117h1v1h-1zM469 117h1v2h-1zM103 118h2v1h-2zM433 118h1v1h-1zM97 119h1v2h-1zM105 119h2v1h-2zM432 119h1v1h-1zM470 119h1v2h-1zM107 120h1v1h-1zM431 120h1v2h-1zM96 121h1v1h-1zM108 121h1v2h-1zM471 121h1v1h-1zM95 122h1v2h-1zM430 122h1v1h-1zM472 122h1v2h-1zM109 123h1v1h-1zM429 123h1v1h-1zM94 124h1v1h-1zM110 124h1v1h-1zM428 124h1v1h-1zM473 124h1v2h-1zM93 125h1v2h-1zM111 125h1v2h-1zM427 125h1v1h-1zM426 126h1v2h-1zM474 126h1v2h-1zM92 127h1v2h-1zM112 127h1v1h-1zM113 128h1v1h-1zM425 128h1v1h-1zM475 128h1v3h-1zM91 129h1v1h-1zM114 129h1v2h-1zM424 129h1v2h-1zM89 130h2v1h-2zM87 131h2v1h-2zM115 131h1v1h-1zM423 131h1v1h-1zM476 131h1v4h-1zM85 132h2v1h-2zM116 132h1v1h-1zM422 132h1v2h-1zM82 133h3v1h-3zM117 133h1v1h-1zM80 134h2v1h-2zM118 134h2v1h-2zM421 134h1v1h-1zM77 135h3v1h-3zM120 135h1v1h-1zM420 135h1v2h-1zM477 135h1v4h-1zM75 136h2v1h-2zM121 136h1v1h-1zM74 137h1v1h-1zM122 137h1v1h-1zM419 137h1v1h-1zM72 138h2v1h-2zM123 138h1v1h-1zM418 138h1v2h-1zM71 139h1v1h-1zM124 139h1v1h-1zM478 139h1v4h-1zM70 140h1v1h-1zM125 140h1v1h-1zM417 140h1v1h-1zM68 141h2v1h-2zM126 141h1v1h-1zM416 141h1v2h-1zM66 142h2v1h-2zM127 142h1v1h-1zM64 143h2v1h-2zM128 143h1v1h-1zM415 143h1v1h-1zM479 143h1v4h-1zM61 144h3v1h-3zM129 144h1v1h-1zM414 144h1v2h-1zM59 145h2v1h-2zM130 145h1v1h-1zM58 146h1v2h-1zM131 146h1v1h-1zM413 146h1v1h-1zM132 147h1v2h-1zM412 147h1v2h-1zM480 147h1v4h-1zM57 148h1v1h-1zM56 149h1v2h-1zM133 149h1v1h-1zM411 149h1v1h-1zM134 150h1v2h-1zM410 150h1v2h-1zM55 151h1v1h-1zM481 151h1v4h-1zM54 152h1v2h-1zM135 152h1v1h-1zM409 152h1v2h-1zM136 153h1v2h-1zM53 154h1v1h-1zM408 154h1v2h-1zM52 155h1v2h-1zM137 155h1v1h-1zM482 155h1v4h-1zM138 156h1v2h-1zM407 156h1v1h-1zM51 157h1v2h-1zM406 157h1v2h-1zM139 158h1v2h-1zM50 159h1v2h-1zM405 159h1v2h-1zM483 159h1v3h-1zM140 160h1v2h-1zM49 161h1v3h-1zM404 161h1v2h-1zM141 162h1v2h-1zM484 162h1v4h-1zM400 163h4v1h-4zM48 164h1v2h-1zM142 164h1v2h-1zM395 164h5v1h-5zM395 165h1v1h-1zM47 166h1v3h-1zM143 166h1v2h-1zM394 166h1v2h-1zM485 166h1v3h-1zM144 168h1v2h-1zM393 168h1v3h-1zM46 169h1v2h-1zM486 169h1v3h-1zM145 170h1v2h-1zM45 171h1v3h-1zM392 171h1v3h-1zM146 172h1v2h-1zM487 172h1v4h-1zM3 174h1v2h-1zM44 174h1v2h-1zM147 174h1v3h-1zM391 174h1v2h-1zM4 176h1v4h-1zM43 176h1v2h-1zM390 176h1v3h-1zM488 176h1v3h-1zM148 177h1v3h-1zM41 178h2v1h-2zM40 179h1v1h-1zM389 179h1v3h-1zM489 179h1v3h-1zM5 180h1v3h-1zM38 180h2v1h-2zM149 180h1v3h-1zM36 181h2v1h-2zM35 182h1v1h-1zM388 182h1v2h-1zM490 182h1v4h-1zM6 183h1v4h-1zM34 183h1v2h-1zM150 183h1v3h-1zM291 184h9v1h-9zM387 184h1v2h-1zM33 185h1v1h-1zM290 185h1v1h-1zM300 185h1v1h-1zM331 185h1v1h-1zM32 186h1v1h-1zM151 186h1v4h-1zM289 186h1v1h-1zM301 186h1v1h-1zM329 186h2v1h-2zM332 186h1v1h-1zM385 186h2v1h-2zM491 186h1v3h-1zM7 187h1v3h-1zM31 187h1v2h-1zM288 187h1v1h-1zM302 187h1v1h-1zM328 187h1v1h-1zM333 187h1v2h-1zM383 187h2v1h-2zM287 188h1v1h-1zM303 188h1v2h-1zM326 188h2v1h-2zM381 188h2v1h-2zM30 189h1v1h-1zM286 189h1v1h-1zM324 189h2v1h-2zM334 189h1v1h-1zM376 189h5v1h-5zM492 189h1v3h-1zM8 190h1v4h-1zM29 190h1v1h-1zM152 190h1v3h-1zM285 190h1v1h-1zM304 190h1v1h-1zM323 190h1v1h-1zM335 190h1v1h-1zM368 190h8v1h-8zM28 191h1v2h-1zM284 191h1v1h-1zM305 191h1v1h-1zM322 191h1v1h-1zM336 191h1v1h-1zM363 191h5v1h-5zM283 192h1v1h-1zM306 192h1v1h-1zM320 192h2v1h-2zM337 192h1v2h-1zM361 192h2v1h-2zM493 192h1v3h-1zM27 193h1v1h-1zM153 193h1v3h-1zM281 193h2v1h-2zM307 193h2v1h-2zM319 193h1v1h-1zM359 193h2v1h-2zM9 194h1v3h-1zM26 194h1v1h-1zM280 194h1v1h-1zM309 194h3v1h-3zM318 194h1v1h-1zM338 194h1v1h-1zM357 194h2v1h-2zM25 195h1v2h-1zM278 195h2v1h-2zM312 195h2v1h-2zM316 195h2v1h-2zM339 195h1v1h-1zM355 195h2v1h-2zM494 195h1v3h-1zM154 196h1v3h-1zM266 196h6v1h-6zM276 196h2v1h-2zM314 196h2v1h-2zM340 196h2v1h-2zM353 196h2v1h-2zM10 197h1v4h-1zM24 197h1v1h-1zM264 197h2v1h-2zM272 197h4v1h-4zM342 197h2v1h-2zM352 197h1v1h-1zM23 198h1v1h-1zM261 198h3v1h-3zM344 198h1v1h-1zM350 198h2v1h-2zM495 198h1v4h-1zM22 199h1v1h-1zM155 199h1v3h-1zM259 199h2v1h-2zM345 199h2v1h-2zM348 199h2v1h-2zM21 200h1v2h-1zM257 200h2v1h-2zM347 200h1v1h-1zM11 201h1v2h-1zM255 201h2v1h-2zM12 202h4v1h-4zM20 202h1v1h-1zM156 202h1v4h-1zM253 202h2v1h-2zM496 202h1v3h-1zM16 203h4v1h-4zM251 203h2v1h-2zM250 204h1v2h-1zM497 205h1v3h-1zM157 206h1v3h-1zM249 206h1v2h-1zM248 208h1v1h-1zM498 208h1v3h-1zM158 209h1v4h-1zM247 209h1v2h-1zM246 211h1v1h-1zM499 211h1v3h-1zM245 212h1v2h-1zM159 213h1v3h-1zM244 214h1v2h-1zM500 214h1v2h-1zM160 216h1v4h-1zM242 216h2v1h-2zM501 216h1v3h-1zM240 217h2v1h-2zM237 218h3v1h-3zM235 219h2v1h-2zM502 219h1v3h-1zM161 220h1v3h-1zM234 220h1v1h-1zM233 221h1v1h-1zM232 222h1v1h-1zM503 222h1v2h-1zM162 223h1v4h-1zM231 223h1v2h-1zM504 224h1v3h-1zM230 225h1v1h-1zM229 226h1v1h-1zM163 227h1v2h-1zM228 227h1v1h-1zM505 227h1v3h-1zM227 228h1v1h-1zM164 229h1v2h-1zM226 229h1v1h-1zM225 230h1v2h-1zM506 230h1v2h-1zM165 231h1v1h-1zM166 232h1v2h-1zM224 232h1v1h-1zM507 232h1v2h-1zM223 233h1v1h-1zM167 234h1v1h-1zM222 234h1v1h-1zM508 234h1v2h-1zM168 235h1v2h-1zM221 235h1v2h-1zM509 236h1v2h-1zM169 237h1v1h-1zM220 237h1v1h-1zM170 238h1v2h-1zM219 238h1v1h-1zM510 238h1v1h-1zM218 239h1v2h-1zM511 239h1v2h-1zM171 240h1v1h-1zM172 241h1v1h-1zM217 241h1v1h-1zM512 241h1v1h-1zM173 242h1v1h-1zM216 242h1v1h-1zM513 242h1v2h-1zM174 243h2v1h-2zM215 243h1v2h-1zM176 244h1v1h-1zM514 244h1v2h-1zM177 245h1v1h-1zM214 245h1v1h-1zM178 246h1v1h-1zM213 246h1v1h-1zM515 246h1v2h-1zM179 247h1v1h-1zM212 247h1v2h-1zM180 248h2v1h-2zM516 248h1v2h-1zM182 249h2v1h-2zM211 249h1v1h-1zM184 250h1v1h-1zM210 250h1v1h-1zM517 250h1v3h-1zM185 251h2v1h-2zM209 251h1v1h-1zM187 252h2v1h-2zM208 252h1v1h-1zM189 253h2v1h-2zM206 253h2v1h-2zM518 253h1v2h-1zM191 254h2v1h-2zM205 254h1v1h-1zM193 255h2v1h-2zM204 255h1v1h-1zM519 255h1v3h-1zM195 256h9v1h-9zM520 258h1v2h-1zM521 260h1v3h-1zM522 263h1v2h-1zM523 265h1v2h-1zM524 267h1v2h-1zM525 269h1v2h-1zM526 271h1v2h-1zM527 273h1v1h-1zM528 274h1v2h-1zM529 276h1v2h-1zM530 278h1v2h-1zM1090 278h2v1h-2zM1088 279h2v1h-2zM1092 279h1v1h-1zM531 280h1v1h-1zM1085 280h3v1h-3zM1093 280h1v1h-1zM532 281h2v1h-2zM1083 281h2v1h-2zM1094 281h1v1h-1zM534 282h2v1h-2zM1081 282h2v1h-2zM1095 282h1v2h-1zM536 283h1v1h-1zM1079 283h2v1h-2zM537 284h2v1h-2zM1077 284h2v1h-2zM1096 284h1v1h-1zM539 285h9v1h-9zM1075 285h2v1h-2zM1097 285h1v1h-1zM548 286h1v2h-1zM1074 286h1v2h-1zM1098 286h1v1h-1zM1099 287h1v1h-1zM549 288h1v1h-1zM1073 288h1v2h-1zM1100 288h1v1h-1zM550 289h1v1h-1zM1101 289h1v1h-1zM551 290h1v2h-1zM1072 290h1v1h-1zM1102 290h1v1h-1zM1071 291h1v2h-1zM1103 291h1v1h-1zM552 292h1v1h-1zM1104 292h1v1h-1zM553 293h1v1h-1zM1070 293h1v1h-1zM1105 293h1v1h-1zM554 294h1v2h-1zM1069 294h1v2h-1zM1106 294h1v1h-1zM1107 295h2v1h-2zM555 296h1v1h-1zM1068 296h1v2h-1zM1109 296h2v1h-2zM556 297h1v1h-1zM1111 297h2v1h-2zM557 298h1v2h-1zM1067 298h1v2h-1zM1113 298h2v1h-2zM558 300h1v1h-1zM1066 300h1v2h-1zM559 301h1v1h-1zM560 302h1v1h-1zM1065 302h1v3h-1zM561 303h1v2h-1zM562 305h1v1h-1zM1064 305h1v2h-1zM563 306h1v1h-1zM564 307h1v2h-1zM1063 307h1v3h-1zM565 309h1v1h-1zM566 310h1v1h-1zM1062 310h1v2h-1zM567 311h1v2h-1zM1061 312h1v3h-1zM568 313h1v1h-1zM971 313h1v1h-1zM569 314h1v1h-1zM970 314h1v1h-1zM972 314h1v1h-1zM570 315h1v2h-1zM969 315h1v1h-1zM973 315h1v1h-1zM1060 315h1v2h-1zM968 316h1v1h-1zM974 316h2v1h-2zM571 317h1v1h-1zM967 317h1v2h-1zM976 317h1v1h-1zM1059 317h1v2h-1zM572 318h1v1h-1zM977 318h1v1h-1zM573 319h1v1h-1zM966 319h1v1h-1zM978 319h1v1h-1zM1058 319h1v2h-1zM574 320h1v1h-1zM965 320h1v1h-1zM979 320h1v1h-1zM575 321h1v2h-1zM964 321h1v1h-1zM980 321h1v1h-1zM1057 321h1v2h-1zM963 322h1v1h-1zM981 322h1v1h-1zM576 323h1v1h-1zM962 323h1v2h-1zM982 323h2v1h-2zM1056 323h1v2h-1zM577 324h1v1h-1zM984 324h1v1h-1zM578 325h1v1h-1zM961 325h1v1h-1zM985 325h1v1h-1zM1055 325h1v2h-1zM579 326h1v1h-1zM960 326h1v2h-1zM986 326h1v1h-1zM580 327h2v1h-2zM987 327h1v1h-1zM1054 327h1v2h-1zM582 328h1v1h-1zM959 328h1v1h-1zM988 328h1v1h-1zM583 329h1v1h-1zM958 329h1v2h-1zM989 329h1v2h-1zM1053 329h1v2h-1zM584 330h2v1h-2zM586 331h1v1h-1zM592 331h4v1h-4zM957 331h1v1h-1zM990 331h1v1h-1zM1052 331h1v2h-1zM587 332h5v1h-5zM596 332h2v1h-2zM956 332h1v2h-1zM991 332h1v1h-1zM598 333h1v1h-1zM992 333h1v1h-1zM1051 333h1v2h-1zM599 334h1v1h-1zM955 334h1v1h-1zM993 334h1v2h-1zM600 335h2v1h-2zM953 335h2v1h-2zM1050 335h1v1h-1zM602 336h1v1h-1zM951 336h2v1h-2zM994 336h1v1h-1zM1049 336h1v2h-1zM603 337h1v1h-1zM949 337h2v1h-2zM995 337h1v1h-1zM604 338h1v1h-1zM947 338h2v1h-2zM996 338h2v1h-2zM1048 338h1v1h-1zM605 339h1v1h-1zM945 339h2v1h-2zM998 339h1v1h-1zM1047 339h1v1h-1zM606 340h2v1h-2zM943 340h2v1h-2zM999 340h1v1h-1zM1046 340h1v1h-1zM608 341h1v1h-1zM941 341h2v1h-2zM1000 341h2v1h-2zM1045 341h1v2h-1zM609 342h1v1h-1zM939 342h2v1h-2zM1002 342h1v1h-1zM610 343h1v1h-1zM939 343h1v1h-1zM1003 343h1v1h-1zM1044 343h1v1h-1zM611 344h1v1h-1zM938 344h1v2h-1zM1004 344h1v1h-1zM1043 344h1v1h-1zM612 345h1v1h-1zM1005 345h1v1h-1zM1042 345h1v1h-1zM613 346h1v1h-1zM937 346h1v2h-1zM1006 346h2v1h-2zM1041 346h1v1h-1zM614 347h1v1h-1zM1008 347h1v1h-1zM1040 347h1v1h-1zM615 348h1v2h-1zM936 348h1v3h-1zM1009 348h1v1h-1zM1039 348h1v1h-1zM1010 349h1v1h-1zM1038 349h1v1h-1zM616 350h1v1h-1zM803 350h3v1h-3zM1011 350h1v1h-1zM1037 350h1v1h-1zM617 351h1v1h-1zM802 351h1v1h-1zM806 351h4v1h-4zM935 351h1v2h-1zM1012 351h1v2h-1zM1036 351h1v1h-1zM618 352h1v1h-1zM801 352h1v1h-1zM810 352h2v1h-2zM1035 352h1v1h-1zM619 353h1v1h-1zM800 353h1v1h-1zM812 353h1v2h-1zM934 353h1v3h-1zM1013 353h1v1h-1zM1034 353h1v1h-1zM620 354h1v2h-1zM798 354h2v1h-2zM1014 354h1v1h-1zM1033 354h1v1h-1zM797 355h1v1h-1zM813 355h1v2h-1zM1015 355h1v2h-1zM1032 355h1v1h-1zM621 356h1v2h-1zM796 356h1v1h-1zM933 356h1v2h-1zM1031 356h1v2h-1zM795 357h1v1h-1zM814 357h1v1h-1zM1016 357h1v1h-1zM622 358h1v2h-1zM794 358h1v1h-1zM815 358h1v2h-1zM932 358h1v2h-1zM1017 358h1v1h-1zM1030 358h1v1h-1zM793 359h1v2h-1zM1018 359h1v2h-1zM1029 359h1v1h-1zM623 360h1v2h-1zM816 360h1v1h-1zM931 360h1v3h-1zM1028 360h1v1h-1zM792 361h1v1h-1zM817 361h1v2h-1zM1019 361h9v1h-9zM624 362h1v2h-1zM791 362h1v1h-1zM790 363h1v1h-1zM818 363h1v2h-1zM930 363h1v2h-1zM625 364h1v2h-1zM789 364h1v2h-1zM819 365h1v1h-1zM929 365h1v2h-1zM626 366h1v2h-1zM788 366h1v1h-1zM820 366h1v1h-1zM787 367h1v2h-1zM821 367h1v2h-1zM928 367h1v3h-1zM627 368h1v2h-1zM786 369h1v2h-1zM822 369h1v1h-1zM628 370h1v2h-1zM823 370h1v1h-1zM927 370h1v2h-1zM785 371h1v3h-1zM824 371h1v1h-1zM629 372h1v2h-1zM825 372h1v2h-1zM926 372h1v3h-1zM630 374h1v3h-1zM784 374h1v3h-1zM826 374h1v1h-1zM827 375h1v2h-1zM925 375h1v2h-1zM631 377h1v2h-1zM783 377h1v2h-1zM828 377h1v2h-1zM924 377h1v2h-1zM632 379h1v3h-1zM782 379h1v3h-1zM829 379h1v3h-1zM923 379h1v3h-1zM633 382h1v2h-1zM781 382h1v3h-1zM830 382h1v2h-1zM922 382h1v3h-1zM634 384h1v2h-1zM831 384h1v3h-1zM780 385h1v2h-1zM921 385h1v3h-1zM635 386h1v3h-1zM779 387h1v2h-1zM832 387h1v2h-1zM920 388h1v3h-1zM636 389h1v3h-1zM778 389h1v1h-1zM833 389h1v3h-1zM777 390h1v1h-1zM776 391h1v1h-1zM919 391h1v2h-1zM637 392h1v2h-1zM775 392h1v2h-1zM834 392h1v2h-1zM918 393h1v3h-1zM638 394h1v3h-1zM774 394h1v1h-1zM835 394h1v3h-1zM773 395h1v1h-1zM772 396h1v1h-1zM917 396h1v3h-1zM639 397h1v3h-1zM771 397h1v1h-1zM836 397h1v3h-1zM770 398h1v1h-1zM769 399h1v1h-1zM916 399h1v3h-1zM640 400h1v3h-1zM768 400h1v1h-1zM837 400h1v3h-1zM767 401h1v1h-1zM766 402h1v1h-1zM915 402h1v3h-1zM641 403h1v2h-1zM765 403h1v1h-1zM838 403h1v3h-1zM764 404h1v1h-1zM642 405h1v3h-1zM763 405h1v1h-1zM914 405h1v2h-1zM762 406h1v2h-1zM839 406h1v3h-1zM913 407h1v3h-1zM643 408h1v3h-1zM761 408h1v2h-1zM840 409h1v3h-1zM760 410h1v1h-1zM912 410h1v2h-1zM644 411h1v2h-1zM759 411h1v2h-1zM841 412h1v3h-1zM911 412h1v3h-1zM645 413h1v3h-1zM758 413h1v1h-1zM757 414h1v2h-1zM842 415h1v3h-1zM910 415h1v2h-1zM646 416h1v2h-1zM756 416h1v2h-1zM909 417h1v3h-1zM647 418h1v3h-1zM755 418h1v1h-1zM843 418h1v3h-1zM754 419h1v1h-1zM753 420h1v1h-1zM908 420h1v2h-1zM648 421h1v2h-1zM752 421h1v1h-1zM844 421h1v3h-1zM751 422h1v1h-1zM907 422h1v3h-1zM649 423h1v3h-1zM750 423h1v1h-1zM749 424h1v1h-1zM845 424h1v4h-1zM748 425h1v1h-1zM906 425h1v2h-1zM650 426h1v2h-1zM739 426h9v1h-9zM738 427h1v1h-1zM905 427h1v2h-1zM651 428h1v2h-1zM737 428h1v1h-1zM846 428h1v3h-1zM736 429h1v1h-1zM904 429h1v3h-1zM652 430h1v2h-1zM734 430h2v1h-2zM733 431h1v1h-1zM847 431h1v3h-1zM653 432h1v1h-1zM732 432h1v1h-1zM903 432h1v2h-1zM654 433h1v1h-1zM731 433h1v1h-1zM655 434h1v2h-1zM729 434h2v1h-2zM848 434h1v3h-1zM902 434h1v3h-1zM728 435h1v1h-1zM656 436h1v1h-1zM726 436h2v1h-2zM657 437h1v1h-1zM724 437h2v1h-2zM849 437h1v4h-1zM901 437h1v2h-1zM658 438h1v2h-1zM723 438h1v1h-1zM722 439h1v1h-1zM900 439h1v2h-1zM659 440h1v1h-1zM721 440h1v1h-1zM660 441h1v2h-1zM720 441h1v1h-1zM850 441h1v3h-1zM899 441h1v2h-1zM718 442h2v1h-2zM661 443h1v1h-1zM717 443h1v1h-1zM898 443h1v2h-1zM662 444h1v2h-1zM716 444h1v1h-1zM851 444h1v3h-1zM714 445h2v1h-2zM897 445h1v2h-1zM663 446h1v1h-1zM710 446h4v1h-4zM664 447h1v2h-1zM707 447h3v1h-3zM852 447h1v2h-1zM896 447h1v2h-1zM705 448h2v1h-2zM665 449h1v1h-1zM703 449h2v1h-2zM853 449h1v2h-1zM895 449h1v2h-1zM666 450h1v2h-1zM701 450h2v1h-2zM699 451h2v1h-2zM854 451h1v2h-1zM894 451h1v2h-1zM667 452h1v1h-1zM698 452h1v1h-1zM668 453h1v2h-1zM697 453h1v2h-1zM855 453h1v2h-1zM893 453h1v2h-1zM669 455h1v1h-1zM696 455h1v1h-1zM856 455h1v2h-1zM892 455h1v2h-1zM670 456h1v2h-1zM695 456h1v1h-1zM694 457h1v1h-1zM857 457h1v2h-1zM891 457h1v3h-1zM671 458h1v1h-1zM693 458h1v2h-1zM672 459h1v2h-1zM858 459h1v2h-1zM692 460h1v1h-1zM890 460h1v2h-1zM673 461h1v1h-1zM691 461h1v1h-1zM859 461h1v1h-1zM674 462h1v2h-1zM690 462h1v1h-1zM860 462h1v2h-1zM889 462h1v2h-1zM689 463h1v1h-1zM675 464h1v1h-1zM688 464h1v1h-1zM861 464h1v2h-1zM888 464h1v2h-1zM676 465h2v1h-2zM687 465h1v1h-1zM678 466h2v1h-2zM686 466h1v1h-1zM862 466h1v2h-1zM887 466h1v2h-1zM680 467h1v1h-1zM685 467h1v1h-1zM681 468h2v1h-2zM684 468h1v1h-1zM863 468h1v2h-1zM886 468h1v2h-1zM683 469h1v1h-1zM864 470h1v2h-1zM885 470h1v2h-1zM865 472h1v2h-1zM884 472h1v2h-1zM866 474h1v2h-1zM883 474h1v2h-1zM882 475h1v1h-1zM867 476h3v1h-3zM880 476h2v1h-2zM870 477h4v1h-4zM877 477h3v1h-3zM874 478h3v1h-3z" fill="#0000cd"/>
<rect x="3" y="349" width="1415" height="1" fill="#c0c0c0"/>
<rect x="2" y="56" width="1416" height="3" fill="#ff0000"/>
<rect x="2" y="189" width="1416" height="3" fill="#ff0000"/>
<rect x="2" y="322" width="1416" height="3" fill="#00ff00"/>
<rect x="2" y="428" width="1416" height="3" fill="#0000ff"/>
<rect x="2" y="549" width="1416" height="3" fill="#0000ff"/>
</g>
<rect x="1417" y="56" width="4" height="3" fill="#ff0000"/>
<rect x="1417" y="189" width="4" height="3" fill="#ff0000"/>
<rect x="1417" y="322" width="4" height="3" fill="#00ff00"/>
<rect x="1417" y="428" width="4" height="3" fill="#0000ff"/>
<rect x="1417" y="549" width="4" height="3" fill="#0000ff"/>
<rect x="3" y="598" width="1" height="21" fill="#c0c0c0"/>
<rect x="11" y="598" width="1" height="24" fill="#c0c0c0"/>
<rect x="19" y="598" width="1" height="24" fill="#c0c0c0"/>
<rect x="27" y="598" width="1" height="21" fill="#c0c0c0"/>
<rect x="35" y="598" width="1" height="18" fill="#c0c0c0"/>
<rect x="43" y="598" width="1" height="16" fill="#c0c0c0"/>
<rect x="51" y="598" width="1" height="11" fill="#c0c0c0"/>
<rect x="59" y="598" width="1" height="7" fill="#c0c0c0"/>
<rect x="67" y="598" width="1" height="10" fill="#c0c0c0"/>
<rect x="75" y="598" width="1" height="10" fill="#c0c0c0"/>
<rect x="83" y="598" width="1" height="7" fill="#c0c0c0"/>
<rect x="91" y="598" width="1" height="3" fill="#c0c0c0"/>
<rect x="99" y="596" width="1" height="3" fill="#c0c0c0"/>
<rect x="107" y="596" width="1" height="3" fill="#c0c0c0"/>
<rect x="115" y="598" width="1" height="3" fill="#c0c0c0"/>
<rect x="123" y="598" width="1" height="8" fill="#c0c0c0"/>
<rect x="131" y="598" width="1" height="13" fill="#c0c0c0"/>
<rect x="139" y="598" width="1" height="16" fill="#c0c0c0"/>
<rect x="147" y="598" width="1" height="18" fill="#c0c0c0"/>
<rect x="155" y="598" width="1" height="26" fill="#c0c0c0"/>
<rect x="163" y="598" width="1" height="32" fill="#c0c0c0"/>
<rect x="171" y="598" width="1" height="35" fill="#c0c0c0"/>
<rect x="179" y="598" width="1" height="37" fill="#c0c0c0"/>
<rect x="187" y="598" width="1" height="35" fill="#c0c0c0"/>
<rect x="195" y="598" width="1" height="33" fill="#c0c0c0"/>
<rect x="203" y="598" width="1" height="31" fill="#c0c0c0"/>
<rect x="211" y="598" width="1" height="28" fill="#c0c0c0"/>
<rect x="219" y="598" width="1" height="25" fill="#c0c0c0"/>
<rect x="227" y="598" width="1" height="23" fill="#c0c0c0"/>
<rect x="235" y="598" width="1" height="19" fill="#c0c0c0"/>
<rect x="243" y="598" width="1" height="17" fill="#c0c0c0"/>
<rect x="251" y="598" width="1" height="10" fill="#c0c0c0"/>
<rect x="259" y="598" width="1" height="9" fill="#c0c0c0"/>
<rect x="267" y="598" width="1" height="9" fill="#c0c0c0"/>
<rect x="275" y="598" width="1" height="9" fill="#c0c0c0"/>
<rect x="283" y="598" width="1" height="5" fill="#c0c0c0"/>
<rect x="299" y="598" width="1" height="2" fill="#c0c0c0"/>
<rect x="307" y="598" width="1" height="3" fill="#c0c0c0"/>
<rect x="315" y="598" width="1" height="3" fill="#c0c0c0"/>
<rect x="323" y="598" width="1" height="2" fill="#c0c0c0"/>
<rect x="339" y="597" width="1" height="2" fill="#c0c0c0"/>
<rect x="347" y="597" width="1" height="2" fill="#c0c0c0"/>
<rect x="379" y="596" width="1" height="3" fill="#c0c0c0"/>
<rect x="387" y="593" width="1" height="6" fill="#c0c0c0"/>
<rect x="395" y="587" width="1" height="12" fill="#c0c0c0"/>
<rect x="403" y="588" width="1" height="11" fill="#c0c0c0"/>
<rect x="411" y="584" width="1" height="15" fill="#c0c0c0"/>
<rect x="419" y="579" width="1" height="20" fill="#c0c0c0"/>
<rect x="427" y="576" width="1" height="23" fill="#c0c0c0"/>
<rect x="435" y="575" width="1" height="24" fill="#c0c0c0"/>
<rect x="443" y="574" width="1" height="25" fill="#c0c0c0"/>
<rect x="451" y="576" width="1" height="23" fill="#c0c0c0"/>
<rect x="459" y="578" width="1" height="21" fill="#c0c0c0"/>
<rect x="467" y="580" width="1" height="19" fill="#c0c0c0"/>
<rect x="475" y="587" width="1" height="12" fill="#c0c0c0"/>
<rect x="483" y="598" width="1" height="2" fill="#c0c0c0"/>
<rect x="491" y="598" width="1" height="13" fill="#c0c0c0"/>
<rect x="499" y="598" width="1" height="18" fill="#c0c0c0"/>
<rect x="507" y="598" width="1" height="22" fill="#c0c0c0"/>
<rect x="515" y="598" width="1" height="24" fill="#c0c0c0"/>
<rect x="523" y="598" width="1" height="25" fill="#c0c0c0"/>
<rect x="531" y="598" width="1" height="30" fill="#c0c0c0"/>
<rect x="539" y="598" width="1" height="35" fill="#c0c0c0"/>
<rect x="547" y="598" width="1" height="37" fill="#c0c0c0"/>
<rect x="555" y="598" width="1" height="42" fill="#c0c0c0"/>
<rect x="563" y="598" width="1" height="44" fill="#c0c0c0"/>
<rect x="571" y="598" width="1" height="43" fill="#c0c0c0"/>
<rect x="579" y="598" width="1" height="43" fill="#c0c0c0"/>
<rect x="587" y="598" width="1" height="44" fill="#c0c0c0"/>
<rect x="595" y="598" width="1" height="42" fill="#c0c0c0"/>
<rect x="603" y="598" width="1" height="43" fill="#c0c0c0"/>
<rect x="611" y="598" width="1" height="46" fill="#c0c0c0"/>
<rect x="619" y="598" width="1" height="49" fill="#c0c0c0"/>
<rect x="627" y="598" width="1" height="52" fill="#c0c0c0"/>
<rect x="635" y="598" width="1" height="57" fill="#c0c0c0"/>
<rect x="643" y="598" width="1" height="63" fill="#c0c0c0"/>
<rect x="651" y="598" width="1" height="64" fill="#c0c0c0"/>
<rect x="659" y="598" width="1" height="62" fill="#c0c0c0"/>
<rect x="667" y="598" width="1" height="63" fill="#c0c0c0"/>
<rect x="675" y="598" width="1" height="64" fill="#c0c0c0"/>
<rect x="683" y="598" width="1" height="61" fill="#c0c0c0"/>
<rect x="691" y="598" width="1" height="56" fill="#c0c0c0"/>
<rect x="699" y="598" width="1" height="51" fill="#c0c0c0"/>
<rect x="707" y="598" width="1" height="47" fill="#c0c0c0"/>
<rect x="715" y="598" width="1" height="44" fill="#c0c0c0"/>
<rect x="723" y="598" width="1" height="41" fill="#c0c0c0"/>
<rect x="731" y="598" width="1" height="39" fill="#c0c0c0"/>
<rect x="739" y="598" width="1" height="35" fill="#c0c0c0"/>
<rect x="747" y="598" width="1" height="31" fill="#c0c0c0"/>
<rect x="755" y="598" width="1" height="24" fill="#c0c0c0"/>
<rect x="763" y="598" width="1" height="16" fill="#c0c0c0"/>
<rect x="771" y="598" width="1" height="12" fill="#c0c0c0"/>
<rect x="779" y="598" width="1" height="9" fill="#c0c0c0"/>
<rect x="787" y="598" width="1" height="2" fill="#c0c0c0"/>
<rect x="795" y="596" width="1" height="3" fill="#c0c0c0"/>
<rect x="803" y="596" width="1" height="3" fill="#c0c0c0"/>
<rect x="811" y="596" width="1" height="3" fill="#c0c0c0"/>
<rect x="819" y="598" width="1" height="2" fill="#c0c0c0"/>
<rect x="827" y="598" width="1" height="7" fill="#c0c0c0"/>
<rect x="835" y="598" width="1" height="15" fill="#c0c0c0"/>
<rect x="843" y="598" width="1" height="20" fill="#c0c0c0"/>
<rect x="851" y="598" width="1" height="27" fill="#c0c0c0"/>
<rect x="859" y="598" width="1" height="28" fill="#c0c0c0"/>
<rect x="867" y="598" width="1" height="29" fill="#c0c0c0"/>
<rect x="875" y="598" width="1" height="25" fill="#c0c0c0"/>
<rect x="883" y="598" width="1" height="22" fill="#c0c0c0"/>
<rect x="891" y="598" width="1" height="17" fill="#c0c0c0"/>
<rect x="899" y="598" width="1" height="10" fill="#c0c0c0"/>
<rect x="907" y="598" width="1" height="6" fill="#c0c0c0"/>
<rect x="923" y="591" width="1" height="8" fill="#c0c0c0"/>
<rect x="931" y="584" width="1" height="15" fill="#c0c0c0"/>
<rect x="939" y="579" width="1" height="20" fill="#c0c0c0"/>
<rect x="947" y="580" width="1" height="19" fill="#c0c0c0"/>
<rect x="955" y="579" width="1" height="20" fill="#c0c0c0"/>
<rect x="963" y="576" width="1" height="23" fill="#c0c0c0"/>
<rect x="971" y="572" width="1" height="27" fill="#c0c0c0"/>
<rect x="979" y="576" width="1" height="23" fill="#c0c0c0"/>
<rect x="987" y="578" width="1" height="21" fill="#c0c0c0"/>
<rect x="995" y="580" width="1" height="19" fill="#c0c0c0"/>
<rect x="1003" y="588" width="1" height="11" fill="#c0c0c0"/>
<rect x="1011" y="590" width="1" height="9" fill="#c0c0c0"/>
<rect x="1019" y="591" width="1" height="8" fill="#c0c0c0"/>
<rect x="1027" y="586" width="1" height="13" fill="#c0c0c0"/>
<rect x="1035" y="584" width="1" height="15" fill="#c0c0c0"/>
<rect x="1043" y="579" width="1" height="20" fill="#c0c0c0"/>
<rect x="1051" y="578" width="1" height="21" fill="#c0c0c0"/>
<rect x="1059" y="578" width="1" height="21" fill="#c0c0c0"/>
<rect x="1067" y="574" width="1" height="25" fill="#c0c0c0"/>
<rect x="1075" y="571" width="1" height="28" fill="#c0c0c0"/>
<rect x="1083" y="570" width="1" height="29" fill="#c0c0c0"/>
<rect x="1091" y="571" width="1" height="28" fill="#c0c0c0"/>
<rect x="1099" y="573" width="1" height="26" fill="#c0c0c0"/>
<rect x="1107" y="582" width="1" height="17" fill="#c0c0c0"/>
<rect x="1115" y="587" width="1" height="12" fill="#c0c0c0"/>
<path d="M1107 575h3v1h-3zM1096 576h2v1h-2zM1101 576h3v1h-3zM1113 576h3v1h-3zM1090 577h2v1h-2zM1095 577h1v1h-1zM994 578h2v1h-2zM999 578h3v1h-3zM1005 578h1v1h-1zM1089 578h1v1h-1zM459 579h3v1h-3zM465 579h3v1h-3zM471 579h3v1h-3zM477 579h1v1h-1zM993 579h1v1h-1zM1006 579h2v1h-2zM1083 579h3v1h-3zM453 580h3v1h-3zM478 580h2v1h-2zM987 580h3v1h-3zM1011 580h3v1h-3zM1078 580h2v1h-2zM448 581h2v1h-2zM483 581h2v1h-2zM981 581h3v1h-3zM1017 581h1v1h-1zM1077 581h1v1h-1zM447 582h1v1h-1zM485 582h1v1h-1zM977 582h1v1h-1zM1018 582h2v1h-2zM1023 582h3v1h-3zM1029 582h3v1h-3zM1035 582h3v1h-3zM1072 582h2v1h-2zM442 583h2v1h-2zM489 583h1v1h-1zM975 583h2v1h-2zM1041 583h3v1h-3zM1047 583h3v1h-3zM1053 583h3v1h-3zM1071 583h1v1h-1zM441 584h1v1h-1zM490 584h2v1h-2zM1059 584h3v1h-3zM1065 584h3v1h-3zM437 585h1v1h-1zM971 585h1v1h-1zM435 586h2v1h-2zM495 586h1v1h-1zM969 586h2v1h-2zM496 587h1v1h-1zM431 588h1v1h-1zM497 588h1v1h-1zM3 589h1v1h-1zM429 589h2v1h-2zM964 589h2v1h-2zM4 590h1v1h-1zM424 590h2v1h-2zM501 590h1v1h-1zM963 590h1v1h-1zM5 591h1v1h-1zM418 591h2v1h-2zM423 591h1v1h-1zM502 591h2v1h-2zM417 592h1v1h-1zM411 593h3v1h-3zM958 593h2v1h-2zM507 594h1v1h-1zM957 594h1v1h-1zM9 595h1v1h-1zM405 595h3v1h-3zM508 595h2v1h-2zM10 596h1v1h-1zM952 596h2v1h-2zM11 597h1v1h-1zM399 597h3v1h-3zM951 597h1v1h-1zM387 598h3v1h-3zM393 598h3v1h-3zM513 598h2v1h-2zM947 598h1v1h-1zM15 599h2v1h-2zM369 599h3v1h-3zM375 599h3v1h-3zM381 599h3v1h-3zM515 599h1v1h-1zM945 599h2v1h-2zM17 600h1v1h-1zM339 600h3v1h-3zM345 600h3v1h-3zM351 600h3v1h-3zM357 600h3v1h-3zM363 600h3v1h-3zM334 601h2v1h-2zM519 601h1v1h-1zM941 601h1v1h-1zM321 602h3v1h-3zM327 602h3v1h-3zM333 602h1v1h-1zM520 602h1v1h-1zM826 602h2v1h-2zM831 602h3v1h-3zM837 602h3v1h-3zM939 602h2v1h-2zM21 603h1v1h-1zM315 603h3v1h-3zM521 603h1v1h-1zM825 603h1v1h-1zM843 603h2v1h-2zM22 604h1v1h-1zM112 604h2v1h-2zM117 604h3v1h-3zM123 604h3v1h-3zM129 604h3v1h-3zM135 604h3v1h-3zM141 604h1v1h-1zM309 604h3v1h-3zM819 604h3v1h-3zM845 604h1v1h-1zM23 605h1v1h-1zM106 605h2v1h-2zM111 605h1v1h-1zM142 605h2v1h-2zM303 605h3v1h-3zM849 605h1v1h-1zM105 606h1v1h-1zM147 606h3v1h-3zM298 606h2v1h-2zM525 606h1v1h-1zM850 606h2v1h-2zM934 606h2v1h-2zM99 607h3v1h-3zM153 607h1v1h-1zM297 607h1v1h-1zM526 607h2v1h-2zM814 607h2v1h-2zM855 607h3v1h-3zM933 607h1v1h-1zM94 608h2v1h-2zM154 608h2v1h-2zM293 608h1v1h-1zM813 608h1v1h-1zM27 609h2v1h-2zM93 609h1v1h-1zM159 609h1v1h-1zM291 609h2v1h-2zM861 609h3v1h-3zM29 610h1v1h-1zM87 610h3v1h-3zM160 610h2v1h-2zM808 610h2v1h-2zM928 610h2v1h-2zM33 611h1v1h-1zM82 611h2v1h-2zM285 611h3v1h-3zM531 611h1v1h-1zM807 611h1v1h-1zM867 611h1v1h-1zM927 611h1v1h-1zM34 612h2v1h-2zM81 612h1v1h-1zM165 612h2v1h-2zM532 612h2v1h-2zM803 612h1v1h-1zM868 612h2v1h-2zM923 612h1v1h-1zM39 613h1v1h-1zM77 613h1v1h-1zM167 613h1v1h-1zM279 613h3v1h-3zM801 613h2v1h-2zM921 613h2v1h-2zM40 614h2v1h-2zM75 614h2v1h-2zM275 614h1v1h-1zM45 615h3v1h-3zM70 615h2v1h-2zM171 615h2v1h-2zM273 615h2v1h-2zM537 615h2v1h-2zM797 615h1v1h-1zM873 615h2v1h-2zM917 615h1v1h-1zM51 616h3v1h-3zM57 616h3v1h-3zM63 616h3v1h-3zM69 616h1v1h-1zM173 616h1v1h-1zM539 616h1v1h-1zM795 616h2v1h-2zM875 616h1v1h-1zM879 616h1v1h-1zM915 616h2v1h-2zM269 617h1v1h-1zM880 617h2v1h-2zM885 617h1v1h-1zM910 617h2v1h-2zM177 618h2v1h-2zM267 618h2v1h-2zM543 618h1v1h-1zM886 618h2v1h-2zM904 618h2v1h-2zM909 618h1v1h-1zM179 619h1v1h-1zM261 619h3v1h-3zM544 619h1v1h-1zM790 619h2v1h-2zM891 619h3v1h-3zM897 619h3v1h-3zM903 619h1v1h-1zM255 620h3v1h-3zM545 620h1v1h-1zM789 620h1v1h-1zM183 621h2v1h-2zM251 621h1v1h-1zM185 622h1v1h-1zM249 622h2v1h-2zM549 622h1v1h-1zM785 622h1v1h-1zM550 623h2v1h-2zM784 623h1v1h-1zM189 624h3v1h-3zM783 624h1v1h-1zM244 625h2v1h-2zM195 626h3v1h-3zM243 626h1v1h-1zM555 626h2v1h-2zM779 626h1v1h-1zM201 627h1v1h-1zM238 627h2v1h-2zM557 627h1v1h-1zM777 627h2v1h-2zM202 628h2v1h-2zM207 628h1v1h-1zM237 628h1v1h-1zM561 628h1v1h-1zM208 629h2v1h-2zM213 629h3v1h-3zM231 629h3v1h-3zM562 629h2v1h-2zM219 630h3v1h-3zM225 630h3v1h-3zM567 630h1v1h-1zM772 630h2v1h-2zM568 631h2v1h-2zM771 631h1v1h-1zM573 632h1v1h-1zM574 633h2v1h-2zM767 633h1v1h-1zM579 634h3v1h-3zM765 634h2v1h-2zM585 635h1v1h-1zM586 636h2v1h-2zM761 636h1v1h-1zM591 637h3v1h-3zM760 637h1v1h-1zM597 638h3v1h-3zM759 638h1v1h-1zM603 639h3v1h-3zM609 640h1v1h-1zM755 640h1v1h-1zM610 641h2v1h-2zM615 641h1v1h-1zM753 641h2v1h-2zM616 642h2v1h-2zM621 642h3v1h-3zM627 643h3v1h-3zM749 643h1v1h-1zM633 644h3v1h-3zM747 644h2v1h-2zM639 645h1v1h-1zM640 646h2v1h-2zM743 646h1v1h-1zM645 647h1v1h-1zM741 647h2v1h-2zM646 648h2v1h-2zM651 649h2v1h-2zM735 649h3v1h-3zM653 650h1v1h-1zM730 650h2v1h-2zM657 651h1v1h-1zM729 651h1v1h-1zM658 652h2v1h-2zM723 652h3v1h-3zM663 653h3v1h-3zM669 654h3v1h-3zM719 654h1v1h-1zM675 655h2v1h-2zM717 655h2v1h-2zM677 656h1v1h-1zM681 657h1v1h-1zM711 657h3v1h-3zM682 658h2v1h-2zM687 658h3v1h-3zM693 658h3v1h-3zM699 658h3v1h-3zM705 658h3v1h-3z" fill="#ff0000"/>
<rect x="883" y="566" width="1" height="4" fill="#ff0000"/>
<line x1="3" y1="709.5" x2="1418" y2="709.5" stroke="#c0c0c0" stroke-width="1" stroke-dasharray="3,3"/>
<line x1="3" y1="760.5" x2="1418" y2="760.5" stroke="#c0c0c0" stroke-width="1" stroke-dasharray="3,3"/>
<path d="M930 716h10v1h-10zM928 717h2v1h-2zM939 717h1v1h-1zM925 718h3v1h-3zM940 718h1v2h-1zM923 719h2v1h-2zM1067 719h1v1h-1zM921 720h2v1h-2zM941 720h1v2h-1zM963 720h3v1h-3zM1066 720h1v1h-1zM1068 720h2v1h-2zM920 721h1v1h-1zM962 721h1v1h-1zM966 721h4v1h-4zM1065 721h1v2h-1zM1070 721h1v1h-1zM395 722h1v1h-1zM918 722h2v1h-2zM942 722h1v2h-1zM960 722h2v1h-2zM970 722h2v1h-2zM1043 722h1v1h-1zM1071 722h1v1h-1zM394 723h1v1h-1zM396 723h1v1h-1zM416 723h14v1h-14zM442 723h2v1h-2zM787 723h2v1h-2zM916 723h2v1h-2zM959 723h1v1h-1zM972 723h1v1h-1zM1041 723h2v1h-2zM1044 723h2v1h-2zM1064 723h1v1h-1zM1072 723h2v1h-2zM393 724h1v1h-1zM397 724h1v1h-1zM411 724h5v1h-5zM430 724h4v1h-4zM438 724h4v1h-4zM444 724h1v1h-1zM786 724h1v1h-1zM789 724h3v1h-3zM915 724h1v1h-1zM943 724h1v2h-1zM958 724h1v1h-1zM973 724h1v2h-1zM1027 724h3v1h-3zM1039 724h2v1h-2zM1046 724h2v1h-2zM1063 724h1v1h-1zM1074 724h1v1h-1zM392 725h1v1h-1zM398 725h1v1h-1zM410 725h1v1h-1zM434 725h4v1h-4zM445 725h1v1h-1zM785 725h1v1h-1zM792 725h2v1h-2zM913 725h2v1h-2zM956 725h2v1h-2zM1026 725h1v1h-1zM1030 725h4v1h-4zM1037 725h2v1h-2zM1048 725h1v1h-1zM1062 725h1v1h-1zM1075 725h5v1h-5zM99 726h1v1h-1zM391 726h1v1h-1zM399 726h1v2h-1zM409 726h1v1h-1zM446 726h2v1h-2zM763 726h1v1h-1zM784 726h1v1h-1zM794 726h2v1h-2zM911 726h2v1h-2zM944 726h1v2h-1zM955 726h1v1h-1zM974 726h1v1h-1zM1025 726h1v1h-1zM1034 726h3v1h-3zM1049 726h2v1h-2zM1061 726h1v2h-1zM1080 726h6v1h-6zM97 727h2v1h-2zM100 727h1v1h-1zM390 727h1v1h-1zM408 727h1v1h-1zM448 727h1v1h-1zM761 727h2v1h-2zM764 727h2v1h-2zM782 727h2v1h-2zM796 727h1v1h-1zM899 727h5v1h-5zM909 727h2v1h-2zM954 727h1v1h-1zM975 727h1v1h-1zM1024 727h1v1h-1zM1051 727h3v1h-3zM1086 727h4v1h-4zM95 728h2v1h-2zM101 728h1v1h-1zM251 728h2v1h-2zM290 728h2v1h-2zM389 728h1v1h-1zM400 728h1v1h-1zM406 728h2v1h-2zM449 728h1v1h-1zM759 728h2v1h-2zM766 728h2v1h-2zM781 728h1v1h-1zM797 728h1v1h-1zM897 728h2v1h-2zM904 728h5v1h-5zM945 728h1v2h-1zM952 728h2v1h-2zM976 728h1v1h-1zM1023 728h1v1h-1zM1054 728h4v1h-4zM1060 728h1v1h-1zM1090 728h2v1h-2zM93 729h2v1h-2zM102 729h1v1h-1zM250 729h1v1h-1zM253 729h2v1h-2zM288 729h2v1h-2zM292 729h1v1h-1zM388 729h1v1h-1zM401 729h1v1h-1zM405 729h1v1h-1zM450 729h1v1h-1zM757 729h2v1h-2zM768 729h1v1h-1zM780 729h1v1h-1zM798 729h1v1h-1zM895 729h2v1h-2zM951 729h1v1h-1zM977 729h1v2h-1zM1022 729h1v1h-1zM1058 729h2v1h-2zM1092 729h1v1h-1zM51 730h9v1h-9zM90 730h3v1h-3zM103 730h1v2h-1zM249 730h1v1h-1zM255 730h2v1h-2zM285 730h3v1h-3zM293 730h1v2h-1zM379 730h9v1h-9zM402 730h1v1h-1zM404 730h1v1h-1zM451 730h10v1h-10zM755 730h2v1h-2zM769 730h2v1h-2zM776 730h4v1h-4zM799 730h1v2h-1zM893 730h2v1h-2zM946 730h1v2h-1zM950 730h1v1h-1zM1021 730h1v1h-1zM1093 730h1v1h-1zM50 731h1v1h-1zM60 731h1v2h-1zM86 731h4v1h-4zM248 731h1v1h-1zM257 731h2v1h-2zM283 731h2v1h-2zM347 731h3v1h-3zM377 731h2v1h-2zM403 731h1v1h-1zM461 731h2v1h-2zM754 731h1v1h-1zM771 731h5v1h-5zM891 731h2v1h-2zM948 731h2v1h-2zM978 731h1v1h-1zM1020 731h1v1h-1zM1094 731h2v1h-2zM49 732h1v1h-1zM83 732h3v1h-3zM104 732h1v1h-1zM247 732h1v1h-1zM259 732h1v1h-1zM282 732h1v1h-1zM294 732h1v1h-1zM322 732h10v1h-10zM346 732h1v2h-1zM350 732h4v1h-4zM375 732h2v1h-2zM463 732h2v1h-2zM753 732h1v2h-1zM800 732h1v1h-1zM889 732h2v1h-2zM947 732h1v1h-1zM979 732h11v1h-11zM1019 732h1v1h-1zM1096 732h1v1h-1zM48 733h1v1h-1zM61 733h1v1h-1zM81 733h2v1h-2zM105 733h1v1h-1zM246 733h1v1h-1zM260 733h2v1h-2zM281 733h1v1h-1zM295 733h1v1h-1zM318 733h4v1h-4zM332 733h1v2h-1zM354 733h6v1h-6zM373 733h2v1h-2zM465 733h2v1h-2zM801 733h1v1h-1zM888 733h1v1h-1zM990 733h4v1h-4zM1017 733h2v1h-2zM1097 733h1v1h-1zM34 734h3v1h-3zM47 734h1v1h-1zM62 734h1v1h-1zM80 734h1v1h-1zM106 734h1v1h-1zM235 734h3v1h-3zM245 734h1v1h-1zM262 734h1v1h-1zM280 734h1v1h-1zM296 734h1v1h-1zM315 734h3v1h-3zM345 734h1v1h-1zM360 734h13v1h-13zM467 734h1v1h-1zM752 734h1v1h-1zM802 734h1v1h-1zM886 734h2v1h-2zM994 734h2v1h-2zM1015 734h2v1h-2zM1098 734h1v1h-1zM30 735h4v1h-4zM37 735h2v1h-2zM46 735h1v1h-1zM63 735h1v2h-1zM78 735h2v1h-2zM107 735h1v1h-1zM233 735h2v1h-2zM238 735h4v1h-4zM244 735h1v1h-1zM263 735h1v1h-1zM278 735h2v1h-2zM297 735h1v2h-1zM313 735h2v1h-2zM333 735h1v1h-1zM344 735h1v2h-1zM468 735h1v1h-1zM751 735h1v1h-1zM803 735h5v1h-5zM884 735h2v1h-2zM996 735h1v1h-1zM1013 735h2v1h-2zM1099 735h1v1h-1zM27 736h3v1h-3zM39 736h2v1h-2zM45 736h1v1h-1zM76 736h2v1h-2zM108 736h1v1h-1zM231 736h2v1h-2zM242 736h2v1h-2zM264 736h2v1h-2zM277 736h1v1h-1zM311 736h2v1h-2zM334 736h1v1h-1zM469 736h1v1h-1zM750 736h1v1h-1zM808 736h4v1h-4zM880 736h4v1h-4zM997 736h1v1h-1zM1011 736h2v1h-2zM1100 736h2v1h-2zM25 737h2v1h-2zM41 737h2v1h-2zM44 737h1v1h-1zM64 737h1v1h-1zM75 737h1v1h-1zM109 737h1v1h-1zM229 737h2v1h-2zM266 737h1v1h-1zM276 737h1v1h-1zM298 737h1v1h-1zM309 737h2v1h-2zM335 737h1v2h-1zM343 737h1v1h-1zM470 737h1v1h-1zM749 737h1v2h-1zM812 737h2v1h-2zM875 737h5v1h-5zM998 737h1v1h-1zM1010 737h1v1h-1zM1102 737h2v1h-2zM24 738h1v1h-1zM43 738h1v1h-1zM65 738h1v1h-1zM73 738h2v1h-2zM110 738h2v1h-2zM203 738h2v1h-2zM218 738h11v1h-11zM267 738h9v1h-9zM299 738h10v1h-10zM342 738h1v2h-1zM471 738h1v1h-1zM739 738h3v1h-3zM814 738h1v1h-1zM874 738h1v1h-1zM999 738h1v2h-1zM1009 738h1v1h-1zM1104 738h1v1h-1zM1114 738h2v1h-2zM22 739h2v1h-2zM66 739h1v2h-1zM71 739h2v1h-2zM112 739h1v1h-1zM201 739h2v1h-2zM205 739h3v1h-3zM216 739h2v1h-2zM336 739h1v1h-1zM472 739h1v1h-1zM738 739h1v1h-1zM742 739h4v1h-4zM748 739h1v1h-1zM815 739h1v1h-1zM873 739h1v1h-1zM1008 739h1v1h-1zM1105 739h2v1h-2zM1110 739h4v1h-4zM20 740h2v1h-2zM69 740h2v1h-2zM113 740h1v1h-1zM199 740h2v1h-2zM208 740h2v1h-2zM213 740h3v1h-3zM337 740h1v1h-1zM341 740h1v1h-1zM473 740h1v1h-1zM737 740h1v2h-1zM746 740h2v1h-2zM816 740h2v1h-2zM872 740h1v1h-1zM1000 740h1v1h-1zM1006 740h2v1h-2zM1107 740h3v1h-3zM18 741h2v1h-2zM67 741h2v1h-2zM114 741h1v1h-1zM131 741h5v1h-5zM187 741h5v1h-5zM197 741h2v1h-2zM210 741h3v1h-3zM338 741h1v2h-1zM340 741h1v2h-1zM474 741h1v1h-1zM818 741h1v1h-1zM871 741h1v1h-1zM1001 741h1v1h-1zM1005 741h1v1h-1zM3 742h5v1h-5zM14 742h4v1h-4zM115 742h2v1h-2zM129 742h2v1h-2zM136 742h8v1h-8zM186 742h1v1h-1zM192 742h5v1h-5zM475 742h1v1h-1zM691 742h5v1h-5zM736 742h1v1h-1zM819 742h2v1h-2zM870 742h1v1h-1zM1002 742h1v1h-1zM1004 742h1v1h-1zM8 743h6v1h-6zM117 743h2v1h-2zM128 743h1v1h-1zM144 743h4v1h-4zM185 743h1v1h-1zM339 743h1v1h-1zM476 743h1v2h-1zM690 743h1v1h-1zM696 743h6v1h-6zM714 743h4v1h-4zM735 743h1v1h-1zM821 743h2v1h-2zM869 743h1v1h-1zM1003 743h1v1h-1zM119 744h2v1h-2zM126 744h2v1h-2zM148 744h1v1h-1zM184 744h1v1h-1zM689 744h1v1h-1zM702 744h4v1h-4zM710 744h4v1h-4zM718 744h4v1h-4zM734 744h1v1h-1zM823 744h2v1h-2zM868 744h1v1h-1zM121 745h2v1h-2zM124 745h2v1h-2zM149 745h1v1h-1zM182 745h2v1h-2zM477 745h1v2h-1zM688 745h1v1h-1zM706 745h4v1h-4zM722 745h3v1h-3zM733 745h1v2h-1zM825 745h2v1h-2zM864 745h4v1h-4zM123 746h1v1h-1zM150 746h1v1h-1zM171 746h3v1h-3zM181 746h1v1h-1zM514 746h10v1h-10zM687 746h1v2h-1zM725 746h3v1h-3zM827 746h1v1h-1zM859 746h5v1h-5zM151 747h1v1h-1zM170 747h1v1h-1zM174 747h4v1h-4zM180 747h1v1h-1zM478 747h1v2h-1zM510 747h4v1h-4zM524 747h2v1h-2zM571 747h3v1h-3zM594 747h3v1h-3zM728 747h2v1h-2zM732 747h1v1h-1zM828 747h1v1h-1zM858 747h1v1h-1zM152 748h1v1h-1zM168 748h2v1h-2zM178 748h2v1h-2zM506 748h4v1h-4zM526 748h1v1h-1zM569 748h2v1h-2zM574 748h4v1h-4zM592 748h2v1h-2zM597 748h3v1h-3zM686 748h1v1h-1zM730 748h2v1h-2zM829 748h1v1h-1zM857 748h1v2h-1zM153 749h1v1h-1zM167 749h1v1h-1zM479 749h1v1h-1zM502 749h4v1h-4zM527 749h1v1h-1zM567 749h2v1h-2zM578 749h6v1h-6zM589 749h3v1h-3zM600 749h2v1h-2zM685 749h1v1h-1zM830 749h1v1h-1zM154 750h1v1h-1zM166 750h1v1h-1zM480 750h1v2h-1zM499 750h3v1h-3zM528 750h2v1h-2zM547 750h1v1h-1zM565 750h2v1h-2zM584 750h5v1h-5zM602 750h2v1h-2zM684 750h1v1h-1zM831 750h1v1h-1zM843 750h1v1h-1zM856 750h1v1h-1zM155 751h5v1h-5zM164 751h2v1h-2zM497 751h2v1h-2zM530 751h1v1h-1zM546 751h1v1h-1zM548 751h2v1h-2zM563 751h2v1h-2zM604 751h2v1h-2zM683 751h1v1h-1zM832 751h1v1h-1zM841 751h2v1h-2zM844 751h2v1h-2zM855 751h1v1h-1zM160 752h4v1h-4zM481 752h1v2h-1zM496 752h1v1h-1zM531 752h2v1h-2zM544 752h2v1h-2zM550 752h1v1h-1zM561 752h2v1h-2zM606 752h1v1h-1zM659 752h2v1h-2zM682 752h1v1h-1zM833 752h1v1h-1zM839 752h2v1h-2zM846 752h1v1h-1zM854 752h1v1h-1zM494 753h2v1h-2zM533 753h2v1h-2zM543 753h1v1h-1zM551 753h1v1h-1zM560 753h1v1h-1zM607 753h1v1h-1zM657 753h2v1h-2zM661 753h2v1h-2zM681 753h1v1h-1zM834 753h1v1h-1zM837 753h2v1h-2zM847 753h1v1h-1zM853 753h1v2h-1zM482 754h1v2h-1zM492 754h2v1h-2zM535 754h2v1h-2zM542 754h1v1h-1zM552 754h2v1h-2zM558 754h2v1h-2zM608 754h2v1h-2zM655 754h2v1h-2zM663 754h2v1h-2zM680 754h1v1h-1zM835 754h2v1h-2zM848 754h2v1h-2zM488 755h4v1h-4zM537 755h2v1h-2zM540 755h2v1h-2zM554 755h1v1h-1zM556 755h2v1h-2zM610 755h1v1h-1zM653 755h2v1h-2zM665 755h2v1h-2zM678 755h2v1h-2zM850 755h1v1h-1zM852 755h1v1h-1zM483 756h5v1h-5zM539 756h1v1h-1zM555 756h1v1h-1zM611 756h3v1h-3zM651 756h2v1h-2zM667 756h3v1h-3zM677 756h1v1h-1zM851 756h1v1h-1zM614 757h4v1h-4zM650 757h1v2h-1zM670 757h4v1h-4zM676 757h1v1h-1zM618 758h4v1h-4zM674 758h2v1h-2zM622 759h4v1h-4zM649 759h1v1h-1zM626 760h3v1h-3zM648 760h1v2h-1zM629 761h2v1h-2zM631 762h2v1h-2zM647 762h1v1h-1zM633 763h2v1h-2zM646 763h1v2h-1zM635 764h2v1h-2zM637 765h2v1h-2zM645 765h1v1h-1zM639 766h2v1h-2zM644 766h1v2h-1zM641 767h2v1h-2zM643 768h1v1h-1z" fill="#1e90ff"/>
<rect x="1419" y="31" width="2" height="1" fill="#000"/>
<rect x="1419" y="64" width="2" height="1" fill="#000"/>
<rect x="1419" y="97" width="2" height="1" fill="#000"/>
<rect x="1419" y="130" width="2" height="1" fill="#000"/>
<rect x="1419" y="163" width="2" height="1" fill="#000"/>
<rect x="1419" y="196" width="2" height="1" fill="#000"/>
<rect x="1419" y="229" width="2" height="1" fill="#000"/>
<rect x="1419" y="262" width="2" height="1" fill="#000"/>
<rect x="1419" y="295" width="2" height="1" fill="#000"/>
<rect x="1419" y="328" width="2" height="1" fill="#000"/>
<rect x="1419" y="361" width="2" height="1" fill="#000"/>
<rect x="1419" y="394" width="2" height="1" fill="#000"/>
<rect x="1419" y="427" width="2" height="1" fill="#000"/>
<rect x="1419" y="460" width="2" height="1" fill="#000"/>
<rect x="1419" y="493" width="2" height="1" fill="#000"/>
<rect x="1419" y="526" width="2" height="1" fill="#000"/>
<rect x="1419" y="559" width="2" height="1" fill="#000"/>
<rect x="1419" y="566" width="1" height="1" fill="#000"/>
<rect x="1419" y="598" width="1" height="1" fill="#000"/>
<rect x="1419" y="671" width="1" height="1" fill="#000"/>
<rect x="3" y="800" width="1" height="3" fill="#000"/>
<rect x="67" y="800" width="1" height="3" fill="#000"/>
<rect x="131" y="800" width="1" height="3" fill="#000"/>
<rect x="195" y="800" width="1" height="3" fill="#000"/>
<rect x="259" y="800" width="1" height="3" fill="#000"/>
<rect x="323" y="800" width="1" height="3" fill="#000"/>
<rect x="387" y="800" width="1" height="3" fill="#000"/>
<rect x="451" y="800" width="1" height="3" fill="#000"/>
<rect x="515" y="800" width="1" height="3" fill="#000"/>
<rect x="579" y="800" width="1" height="3" fill="#000"/>
<rect x="643" y="800" width="1" height="3" fill="#000"/>
<rect x="707" y="800" width="1" height="3" fill="#000"/>
<rect x="771" y="800" width="1" height="3" fill="#000"/>
<rect x="835" y="800" width="1" height="3" fill="#000"/>
<rect x="899" y="800" width="1" height="3" fill="#000"/>
<rect x="963" y="800" width="1" height="3" fill="#000"/>
<rect x="1027" y="800" width="1" height="3" fill="#000"/>
<rect x="1091" y="800" width="1" height="3" fill="#000"/>
</svg>
<div class="t ax" style="left:1424px;top:27px">0.72200</div>
<div class="t ax" style="left:1424px;top:60px">0.71950</div>
<div class="t ax" style="left:1424px;top:93px">0.71705</div>
<div class="t ax" style="left:1424px;top:126px">0.71455</div>
<div class="t ax" style="left:1424px;top:159px">0.71205</div>
<div class="t ax" style="left:1424px;top:192px">0.70960</div>
<div class="t ax" style="left:1424px;top:225px">0.70710</div>
<div class="t ax" style="left:1424px;top:258px">0.70460</div>
<div class="t ax" style="left:1424px;top:291px">0.70215</div>
<div class="t ax" style="left:1424px;top:324px">0.69965</div>
<div class="t ax" style="left:1424px;top:357px">0.69715</div>
<div class="t ax" style="left:1424px;top:390px">0.69470</div>
<div class="t ax" style="left:1424px;top:423px">0.69220</div>
<div class="t ax" style="left:1424px;top:456px">0.68970</div>
<div class="t ax" style="left:1424px;top:489px">0.68725</div>
<div class="t ax" style="left:1424px;top:522px">0.68475</div>
<div class="t ax" style="left:1424px;top:555px">0.68230</div>
<div class="t ax" style="left:1421.3px;top:567px">0.002522</div>
<div class="t ax" style="left:1421.3px;top:594px">0.00</div>
<div class="t ax" style="left:1421.3px;top:656px">-0.005234</div>
<div class="t ax" style="left:1421.3px;top:672px">100</div>
<div class="t ax" style="left:1421.3px;top:705px">70</div>
<div class="t ax" style="left:1421.3px;top:756px">30</div>
<div class="t ax" style="left:1421.3px;top:787px">0</div>
<div class="lbl" style="top:51px;background:#ff0000"><span>0.72005</span></div>
<div class="lbl" style="top:184px;background:#ff0000"><span>0.71005</span></div>
<div class="lbl" style="top:317px;background:#00ff00"><span>0.70002</span></div>
<div class="lbl" style="top:344px;background:#000000"><span>0.69811</span></div>
<div class="lbl" style="top:423px;background:#0000ff"><span>0.69204</span></div>
<div class="lbl" style="top:544px;background:#0000ff"><span>0.68300</span></div>
<div class="t ax" style="left:3px;top:804px">12 Feb 2019</div>
<div class="t ax" style="left:67px;top:804px">21 Feb 2019</div>
<div class="t ax" style="left:131px;top:804px">3 Mar 2019</div>
<div class="t ax" style="left:195px;top:804px">12 Mar 2019</div>
<div class="t ax" style="left:259px;top:804px">21 Mar 2019</div>
<div class="t ax" style="left:323px;top:804px">31 Mar 2019</div>
<div class="t ax" style="left:387px;top:804px">9 Apr 2019</div>
<div class="t ax" style="left:451px;top:804px">18 Apr 2019</div>
<div class="t ax" style="left:515px;top:804px">29 Apr 2019</div>
<div class="t ax" style="left:579px;top:804px">8 May 2019</div>
<div class="t ax" style="left:643px;top:804px">17 May 2019</div>
<div class="t ax" style="left:707px;top:804px">27 May 2019</div>
<div class="t ax" style="left:771px;top:804px">5 Jun 2019</div>
<div class="t ax" style="left:835px;top:804px">14 Jun 2019</div>
<div class="t ax" style="left:899px;top:804px">24 Jun 2019</div>
<div class="t ax" style="left:963px;top:804px">3 Jul 2019</div>
<div class="t ax" style="left:1027px;top:804px">12 Jul 2019</div>
<div class="t ax" style="left:1091px;top:804px">22 Jul 2019</div>
<svg width="10" height="6" style="left:6px;top:30px"><polygon points="0,5 8,5 4,0.5" fill="#000"/></svg>
<div class="t" style="left:18.5px;top:27px;font-size:9.6px">AUDUSD-,Daily</div>
<div class="t" style="left:93px;top:27px;font-size:9.6px;transform:scaleX(0.954);transform-origin:0 0">0.69768 0.69822 0.69734 0.69811</div>
<div class="t ax" style="left:7px;top:569px;font-size:9.6px;transform:scaleX(0.967);transform-origin:0 0">MACD(12,26,9) 0.000971 0.001716</div>
<div class="t ax" style="left:7px;top:674px;font-size:9.6px;transform:scaleX(0.967);transform-origin:0 0">RSI(14) 47.5202</div>
<div style="position:absolute;left:4px;top:42px;width:223px;height:67px;background:#fff"></div>
<div style="position:absolute;left:6px;top:43px;width:52px;height:25px;background:linear-gradient(#5656ff,#3c3ce6);box-sizing:border-box;border:1px solid #2a2acc;border-bottom:none"></div>
<div style="position:absolute;left:173px;top:43px;width:52px;height:25px;background:linear-gradient(#5656ff,#3c3ce6);box-sizing:border-box;border:1px solid #2a2acc;border-bottom:none"></div>
<div style="position:absolute;left:6px;top:67px;width:109px;height:40px;background:linear-gradient(#3c3ce6,#1a1ac8 45%,#0000a0);box-sizing:border-box;border:1px solid #1414b4;border-top:none"></div>
<div style="position:absolute;left:117px;top:67px;width:108px;height:40px;background:linear-gradient(#3c3ce6,#1a1ac8 45%,#0000a0);box-sizing:border-box;border:1px solid #1414b4;border-top:none"></div>
<div style="position:absolute;left:10px;top:66px;width:44px;height:1px;background:#9a9aff"></div>
<div style="position:absolute;left:177px;top:66px;width:44px;height:1px;background:#9a9aff"></div>
<div style="position:absolute;left:60px;top:43px;width:111px;height:22px;background:#fff;box-sizing:border-box;border:1px solid #a8a8a8"></div>
<div style="position:absolute;left:61px;top:44px;width:20px;height:20px;background:linear-gradient(#f0f0f0,#cfcfcf);box-sizing:border-box;border:1px solid #b8b8b8"></div>
<div style="position:absolute;left:150px;top:44px;width:20px;height:20px;background:linear-gradient(#f0f0f0,#cfcfcf);box-sizing:border-box;border:1px solid #b8b8b8"></div>
<svg width="8" height="5" style="left:68px;top:52px"><polygon points="0,0 5.4,0 2.7,3.2" fill="#5a6ec8"/></svg>
<svg width="8" height="5" style="left:157px;top:52px"><polygon points="0,3.2 5.4,3.2 2.7,0" fill="#7080cc"/></svg>
<div class="t" style="left:18.2px;top:47.5px;font-size:13px;color:#fff;transform:scaleX(0.83);transform-origin:0 0">SELL</div>
<div class="t" style="left:186.3px;top:47.5px;font-size:13px;color:#fff;transform:scaleX(0.92);transform-origin:0 0">BUY</div>
<div class="t" style="left:122.3px;top:48px;font-size:12px;color:#000">1.00</div>
<div class="t" style="left:25.5px;top:88px;font-size:12px;font-weight:bold;color:#fff">0.69</div>
<div class="t" style="left:54px;top:70px;font-size:33px;color:#fff;letter-spacing:-2px">81</div>
<div class="t" style="left:93px;top:72px;font-size:12px;font-weight:bold;color:#fff">1</div>
<div class="t" style="left:135.5px;top:88px;font-size:12px;font-weight:bold;color:#fff">0.69</div>
<div class="t" style="left:165px;top:70px;font-size:33px;color:#fff;letter-spacing:-2px">83</div>
<div class="t" style="left:204px;top:72px;font-size:12px;font-weight:bold;color:#fff">0</div>

<div style="position:absolute;left:0;top:820px;width:1463px;height:1px;background:#e3e3e3"></div>
<div style="position:absolute;left:0;top:822px;width:1463px;height:19px;background:#f0f0f0"></div>
<div style="position:absolute;left:0;top:822px;width:1463px;height:1px;background:#000"></div>
<div style="position:absolute;left:112px;top:822px;width:108px;height:18px;background:#fff;box-sizing:border-box;border:1px solid #000;border-top:none"></div>
<div class="t tab" style="left:15.5px;">EURUSD-,Daily</div>
<div class="t tab" style="left:123px;color:#000;">AUDUSD-,Daily</div>
<div class="t tab" style="left:232px;">USDCHF-,Daily</div>
<div class="t tab" style="left:340px;">USDCAD-,Daily</div>
<div class="t tab" style="left:448px;">USDCNH-,Daily</div>
<div class="t tab" style="left:559px;">EURCHF-,Weekly</div>
<div class="t tab" style="left:679.3px;transform:scaleX(1.045);transform-origin:0 0;">XAUUSD-,Monthly</div>
<div class="t tab" style="left:807px;">GBPUSD-,H1</div>
<div class="t tab" style="left:903px;transform:scaleX(1.06);transform-origin:0 0;">UKOil-,H1</div>
<div style="position:absolute;left:328px;top:826px;width:1px;height:13px;background:#808080"></div>
<div style="position:absolute;left:436px;top:826px;width:1px;height:13px;background:#808080"></div>
<div style="position:absolute;left:547px;top:826px;width:1px;height:13px;background:#808080"></div>
<div style="position:absolute;left:668px;top:826px;width:1px;height:13px;background:#808080"></div>
<div style="position:absolute;left:797px;top:826px;width:1px;height:13px;background:#808080"></div>
<div style="position:absolute;left:892px;top:826px;width:1px;height:13px;background:#808080"></div>
<div style="position:absolute;left:973px;top:826px;width:1px;height:13px;background:#808080"></div>
<svg width="30" height="10" style="left:1432px;top:827px"><polygon points="5,0.5 5,7.5 1.6,4" fill="#a0a0a0"/><polygon points="21,0.5 21,7.5 24.4,4" fill="#a0a0a0"/></svg>
</body></html>
